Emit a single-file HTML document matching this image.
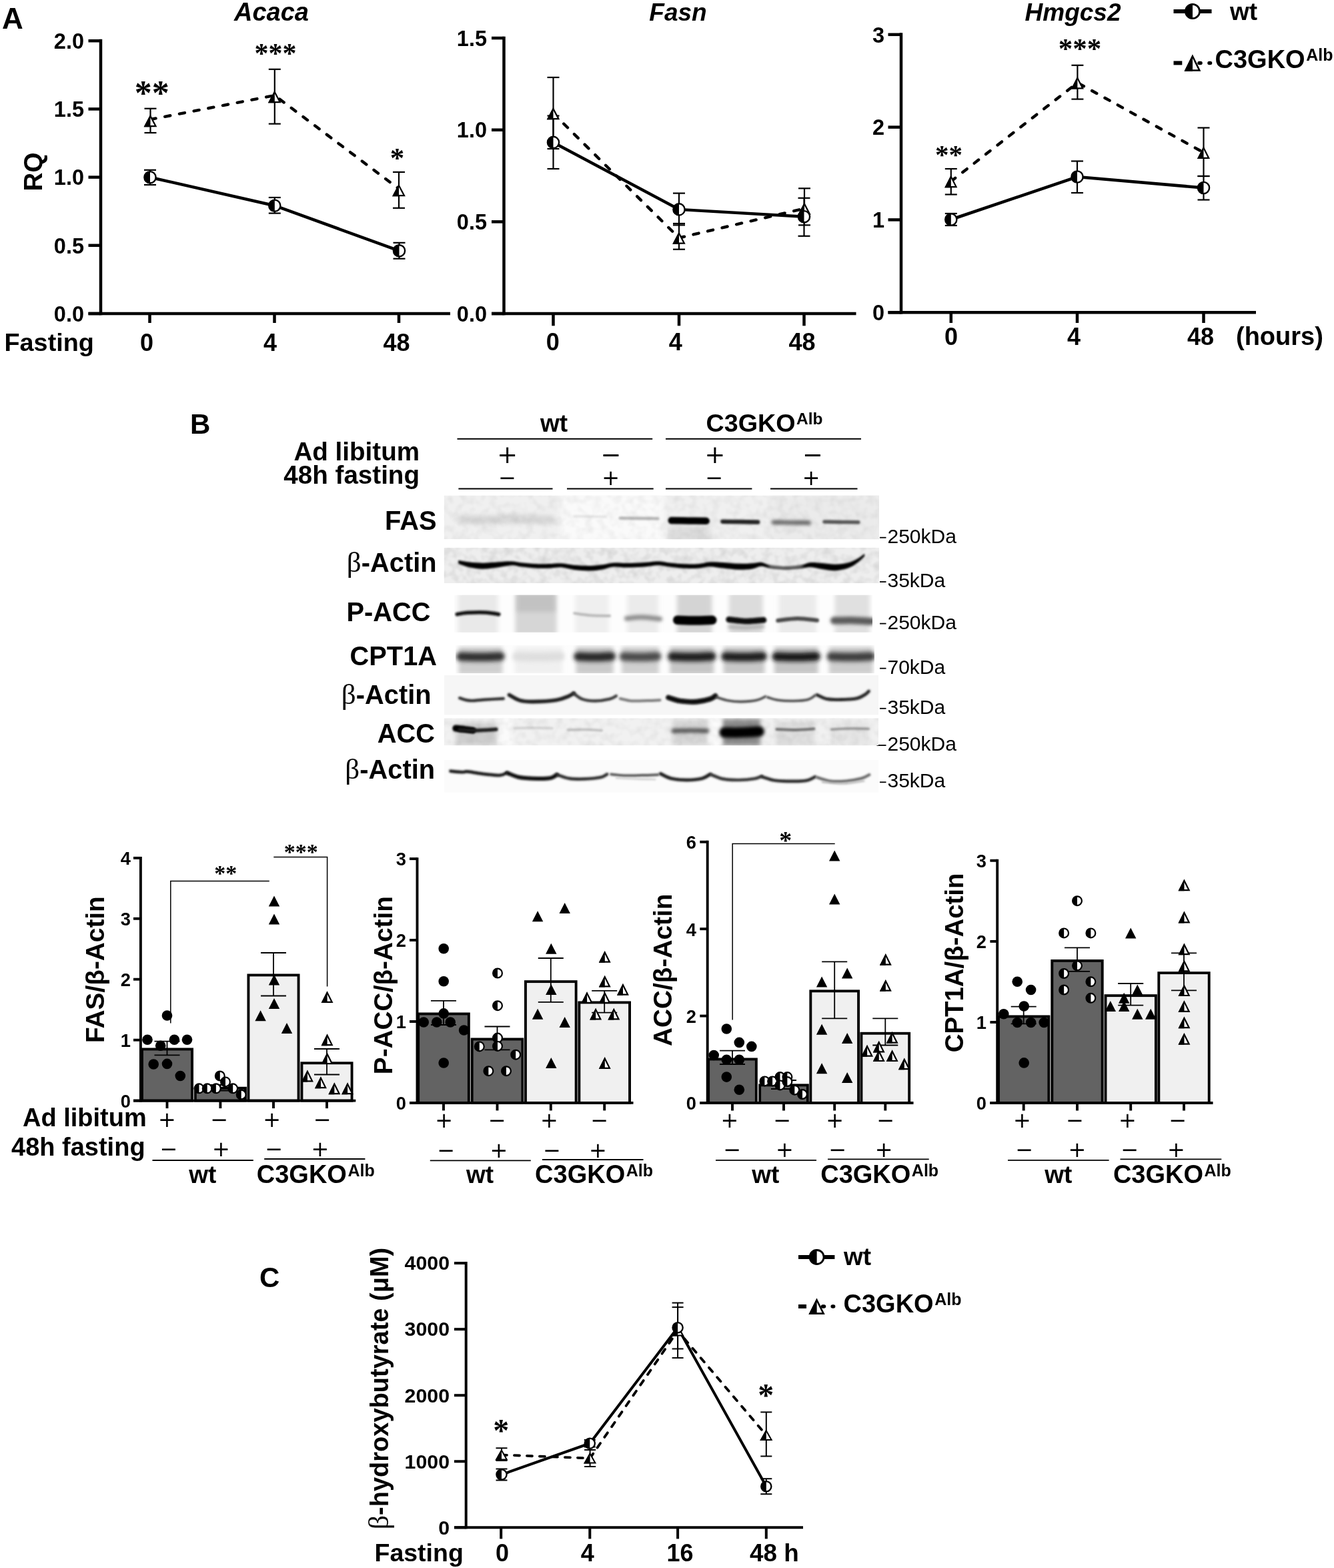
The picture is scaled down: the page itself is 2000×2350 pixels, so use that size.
<!DOCTYPE html>
<html lang="en"><head><meta charset="utf-8"><title>Figure</title>
<style>
html,body{margin:0;padding:0;background:#fff;}
body{width:2000px;height:2350px;overflow:hidden;}
svg{display:block;}
text{fill:#000;}
</style></head><body>
<svg width="2000" height="2350" viewBox="0 0 2000 2350">
<rect x="0" y="0" width="2000" height="2350" fill="#fff"/>
<text x="3" y="42.5" font-family='"Liberation Sans", Arial, sans-serif' font-size="44" font-weight="bold" font-style="normal" text-anchor="start">A</text>
<line x1="151" y1="58.75" x2="151" y2="472.25" stroke="#000" stroke-width="4.5" stroke-linecap="butt"/>
<line x1="132.5" y1="470" x2="675" y2="470" stroke="#000" stroke-width="4.5" stroke-linecap="butt"/>
<line x1="132.5" y1="61.2" x2="151" y2="61.2" stroke="#000" stroke-width="4.5" stroke-linecap="butt"/>
<text x="126" y="72.9" font-family='"Liberation Sans", Arial, sans-serif' font-size="32.5" font-weight="bold" font-style="normal" text-anchor="end">2.0</text>
<line x1="132.5" y1="163.4" x2="151" y2="163.4" stroke="#000" stroke-width="4.5" stroke-linecap="butt"/>
<text x="126" y="175.1" font-family='"Liberation Sans", Arial, sans-serif' font-size="32.5" font-weight="bold" font-style="normal" text-anchor="end">1.5</text>
<line x1="132.5" y1="265.6" x2="151" y2="265.6" stroke="#000" stroke-width="4.5" stroke-linecap="butt"/>
<text x="126" y="277.3" font-family='"Liberation Sans", Arial, sans-serif' font-size="32.5" font-weight="bold" font-style="normal" text-anchor="end">1.0</text>
<line x1="132.5" y1="367.8" x2="151" y2="367.8" stroke="#000" stroke-width="4.5" stroke-linecap="butt"/>
<text x="126" y="379.5" font-family='"Liberation Sans", Arial, sans-serif' font-size="32.5" font-weight="bold" font-style="normal" text-anchor="end">0.5</text>
<line x1="132.5" y1="470" x2="151" y2="470" stroke="#000" stroke-width="4.5" stroke-linecap="butt"/>
<text x="126" y="481.7" font-family='"Liberation Sans", Arial, sans-serif' font-size="32.5" font-weight="bold" font-style="normal" text-anchor="end">0.0</text>
<line x1="224.5" y1="470" x2="224.5" y2="484" stroke="#000" stroke-width="4.5" stroke-linecap="butt"/>
<line x1="411.5" y1="470" x2="411.5" y2="484" stroke="#000" stroke-width="4.5" stroke-linecap="butt"/>
<line x1="598" y1="470" x2="598" y2="484" stroke="#000" stroke-width="4.5" stroke-linecap="butt"/>
<text x="63" y="257.5" font-family='"Liberation Sans", Arial, sans-serif' font-size="38.7" font-weight="bold" font-style="normal" text-anchor="middle" transform="rotate(-90 63 257.5)">RQ</text>
<text x="407" y="31" font-family='"Liberation Sans", Arial, sans-serif' font-size="38" font-weight="bold" font-style="italic" text-anchor="middle">Acaca</text>
<text x="6.5" y="526" font-family='"Liberation Sans", Arial, sans-serif' font-size="37.8" font-weight="bold" font-style="normal" text-anchor="start">Fasting</text>
<text x="220" y="526" font-family='"Liberation Sans", Arial, sans-serif' font-size="36" font-weight="bold" font-style="normal" text-anchor="middle">0</text>
<text x="405" y="526" font-family='"Liberation Sans", Arial, sans-serif' font-size="36" font-weight="bold" font-style="normal" text-anchor="middle">4</text>
<text x="594.5" y="526" font-family='"Liberation Sans", Arial, sans-serif' font-size="36" font-weight="bold" font-style="normal" text-anchor="middle">48</text>
<polyline points="225,265.7 411.8,308.2 598.5,375.8" fill="none" stroke="#000" stroke-width="4.5" stroke-linecap="butt" stroke-linejoin="miter"/>
<polyline points="225.5,179 411.8,143 598,283" fill="none" stroke="#000" stroke-width="4.4" stroke-linecap="round" stroke-linejoin="miter" stroke-dasharray="8.2 13.9"/>
<line x1="225" y1="254.8" x2="225" y2="277" stroke="#000" stroke-width="2.2" stroke-linecap="butt"/>
<line x1="216" y1="254.8" x2="234" y2="254.8" stroke="#000" stroke-width="2.2" stroke-linecap="butt"/>
<line x1="216" y1="277" x2="234" y2="277" stroke="#000" stroke-width="2.2" stroke-linecap="butt"/>
<circle cx="225" cy="265.7" r="8.6" fill="#fff" stroke="#000" stroke-width="2.4"/>
<path d="M225,257.1 A8.6,8.6 0 0 0 225,274.3 Z" fill="#000"/>
<line x1="411.8" y1="296" x2="411.8" y2="319.6" stroke="#000" stroke-width="2.2" stroke-linecap="butt"/>
<line x1="402.8" y1="296" x2="420.8" y2="296" stroke="#000" stroke-width="2.2" stroke-linecap="butt"/>
<line x1="402.8" y1="319.6" x2="420.8" y2="319.6" stroke="#000" stroke-width="2.2" stroke-linecap="butt"/>
<circle cx="411.8" cy="308.2" r="8.6" fill="#fff" stroke="#000" stroke-width="2.4"/>
<path d="M411.8,299.6 A8.6,8.6 0 0 0 411.8,316.8 Z" fill="#000"/>
<line x1="598.5" y1="363.8" x2="598.5" y2="387.7" stroke="#000" stroke-width="2.2" stroke-linecap="butt"/>
<line x1="589.5" y1="363.8" x2="607.5" y2="363.8" stroke="#000" stroke-width="2.2" stroke-linecap="butt"/>
<line x1="589.5" y1="387.7" x2="607.5" y2="387.7" stroke="#000" stroke-width="2.2" stroke-linecap="butt"/>
<circle cx="598.5" cy="375.8" r="8.6" fill="#fff" stroke="#000" stroke-width="2.4"/>
<path d="M598.5,367.2 A8.6,8.6 0 0 0 598.5,384.4 Z" fill="#000"/>
<line x1="225.5" y1="162.7" x2="225.5" y2="199" stroke="#000" stroke-width="2.2" stroke-linecap="butt"/>
<line x1="216.5" y1="162.7" x2="234.5" y2="162.7" stroke="#000" stroke-width="2.2" stroke-linecap="butt"/>
<line x1="216.5" y1="199" x2="234.5" y2="199" stroke="#000" stroke-width="2.2" stroke-linecap="butt"/>
<polygon points="225.5,173.92 233.53,189.2 217.47,189.2" fill="#fff" stroke="#000" stroke-width="2.2" stroke-linejoin="miter"/>
<polygon points="225.5,171.5 225.5,190.3 215.6,190.3" fill="#000"/>
<line x1="411.8" y1="103.8" x2="411.8" y2="185.6" stroke="#000" stroke-width="2.2" stroke-linecap="butt"/>
<line x1="402.8" y1="103.8" x2="420.8" y2="103.8" stroke="#000" stroke-width="2.2" stroke-linecap="butt"/>
<line x1="402.8" y1="185.6" x2="420.8" y2="185.6" stroke="#000" stroke-width="2.2" stroke-linecap="butt"/>
<polygon points="411.8,137.92 419.83,153.2 403.77,153.2" fill="#fff" stroke="#000" stroke-width="2.2" stroke-linejoin="miter"/>
<polygon points="411.8,135.5 411.8,154.3 401.9,154.3" fill="#000"/>
<line x1="598" y1="257.9" x2="598" y2="311.8" stroke="#000" stroke-width="2.2" stroke-linecap="butt"/>
<line x1="589" y1="257.9" x2="607" y2="257.9" stroke="#000" stroke-width="2.2" stroke-linecap="butt"/>
<line x1="589" y1="311.8" x2="607" y2="311.8" stroke="#000" stroke-width="2.2" stroke-linecap="butt"/>
<polygon points="598,277.92 606.03,293.2 589.97,293.2" fill="#fff" stroke="#000" stroke-width="2.2" stroke-linejoin="miter"/>
<polygon points="598,275.5 598,294.3 588.1,294.3" fill="#000"/>
<text x="227.7" y="156.94" font-family='"Liberation Serif", "Times New Roman", serif' font-size="52" font-weight="bold" font-style="normal" text-anchor="middle">**</text>
<text x="413" y="94.24" font-family='"Liberation Serif", "Times New Roman", serif' font-size="42" font-weight="bold" font-style="normal" text-anchor="middle">***</text>
<text x="595.5" y="251.21" font-family='"Liberation Serif", "Times New Roman", serif' font-size="43" font-weight="bold" font-style="normal" text-anchor="middle">*</text>
<line x1="755.5" y1="54.75" x2="755.5" y2="472.25" stroke="#000" stroke-width="4.5" stroke-linecap="butt"/>
<line x1="737" y1="470" x2="1283.5" y2="470" stroke="#000" stroke-width="4.5" stroke-linecap="butt"/>
<line x1="737" y1="57.05" x2="755.5" y2="57.05" stroke="#000" stroke-width="4.5" stroke-linecap="butt"/>
<text x="730" y="68.75" font-family='"Liberation Sans", Arial, sans-serif' font-size="32.5" font-weight="bold" font-style="normal" text-anchor="end">1.5</text>
<line x1="737" y1="194.7" x2="755.5" y2="194.7" stroke="#000" stroke-width="4.5" stroke-linecap="butt"/>
<text x="730" y="206.4" font-family='"Liberation Sans", Arial, sans-serif' font-size="32.5" font-weight="bold" font-style="normal" text-anchor="end">1.0</text>
<line x1="737" y1="332.35" x2="755.5" y2="332.35" stroke="#000" stroke-width="4.5" stroke-linecap="butt"/>
<text x="730" y="344.05" font-family='"Liberation Sans", Arial, sans-serif' font-size="32.5" font-weight="bold" font-style="normal" text-anchor="end">0.5</text>
<line x1="737" y1="470" x2="755.5" y2="470" stroke="#000" stroke-width="4.5" stroke-linecap="butt"/>
<text x="730" y="481.7" font-family='"Liberation Sans", Arial, sans-serif' font-size="32.5" font-weight="bold" font-style="normal" text-anchor="end">0.0</text>
<line x1="829.5" y1="470" x2="829.5" y2="488.3" stroke="#000" stroke-width="4.5" stroke-linecap="butt"/>
<line x1="1018" y1="470" x2="1018" y2="488.3" stroke="#000" stroke-width="4.5" stroke-linecap="butt"/>
<line x1="1205.5" y1="470" x2="1205.5" y2="488.3" stroke="#000" stroke-width="4.5" stroke-linecap="butt"/>
<text x="1016.5" y="31" font-family='"Liberation Sans", Arial, sans-serif' font-size="37" font-weight="bold" font-style="italic" text-anchor="middle">Fasn</text>
<text x="828.7" y="525" font-family='"Liberation Sans", Arial, sans-serif' font-size="36" font-weight="bold" font-style="normal" text-anchor="middle">0</text>
<text x="1012.7" y="525" font-family='"Liberation Sans", Arial, sans-serif' font-size="36" font-weight="bold" font-style="normal" text-anchor="middle">4</text>
<text x="1202.5" y="525" font-family='"Liberation Sans", Arial, sans-serif' font-size="36" font-weight="bold" font-style="normal" text-anchor="middle">48</text>
<polyline points="829.5,213.4 1018,313.9 1205.5,324.7" fill="none" stroke="#000" stroke-width="4.5" stroke-linecap="butt" stroke-linejoin="miter"/>
<polyline points="829.5,170 1018,356.5 1206,312.5" fill="none" stroke="#000" stroke-width="4.4" stroke-linecap="round" stroke-linejoin="miter" stroke-dasharray="8.2 13.9"/>
<line x1="829.5" y1="116" x2="829.5" y2="223" stroke="#000" stroke-width="2.2" stroke-linecap="butt"/>
<line x1="820.5" y1="116" x2="838.5" y2="116" stroke="#000" stroke-width="2.2" stroke-linecap="butt"/>
<line x1="820.5" y1="223" x2="838.5" y2="223" stroke="#000" stroke-width="2.2" stroke-linecap="butt"/>
<line x1="829.5" y1="173.5" x2="829.5" y2="253" stroke="#000" stroke-width="2.2" stroke-linecap="butt"/>
<line x1="820.5" y1="173.5" x2="838.5" y2="173.5" stroke="#000" stroke-width="2.2" stroke-linecap="butt"/>
<line x1="820.5" y1="253" x2="838.5" y2="253" stroke="#000" stroke-width="2.2" stroke-linecap="butt"/>
<line x1="1018" y1="335" x2="1018" y2="373.7" stroke="#000" stroke-width="2.2" stroke-linecap="butt"/>
<line x1="1009" y1="335" x2="1027" y2="335" stroke="#000" stroke-width="2.2" stroke-linecap="butt"/>
<line x1="1009" y1="373.7" x2="1027" y2="373.7" stroke="#000" stroke-width="2.2" stroke-linecap="butt"/>
<line x1="1018" y1="289.6" x2="1018" y2="337.4" stroke="#000" stroke-width="2.2" stroke-linecap="butt"/>
<line x1="1009" y1="289.6" x2="1027" y2="289.6" stroke="#000" stroke-width="2.2" stroke-linecap="butt"/>
<line x1="1009" y1="337.4" x2="1027" y2="337.4" stroke="#000" stroke-width="2.2" stroke-linecap="butt"/>
<line x1="1206" y1="282.3" x2="1206" y2="337.4" stroke="#000" stroke-width="2.2" stroke-linecap="butt"/>
<line x1="1197" y1="282.3" x2="1215" y2="282.3" stroke="#000" stroke-width="2.2" stroke-linecap="butt"/>
<line x1="1197" y1="337.4" x2="1215" y2="337.4" stroke="#000" stroke-width="2.2" stroke-linecap="butt"/>
<line x1="1205.5" y1="296.8" x2="1205.5" y2="353.8" stroke="#000" stroke-width="2.2" stroke-linecap="butt"/>
<line x1="1196.5" y1="296.8" x2="1214.5" y2="296.8" stroke="#000" stroke-width="2.2" stroke-linecap="butt"/>
<line x1="1196.5" y1="353.8" x2="1214.5" y2="353.8" stroke="#000" stroke-width="2.2" stroke-linecap="butt"/>
<polygon points="829.5,163.12 837.38,178.2 821.62,178.2" fill="#fff" stroke="#000" stroke-width="2.2" stroke-linejoin="miter"/>
<polygon points="829.5,160.7 829.5,179.3 819.75,179.3" fill="#000"/>
<polygon points="1018,349.62 1025.88,364.7 1010.12,364.7" fill="#fff" stroke="#000" stroke-width="2.2" stroke-linejoin="miter"/>
<polygon points="1018,347.2 1018,365.8 1008.25,365.8" fill="#000"/>
<polygon points="1206,305.62 1213.88,320.7 1198.12,320.7" fill="#fff" stroke="#000" stroke-width="2.2" stroke-linejoin="miter"/>
<polygon points="1206,303.2 1206,321.8 1196.25,321.8" fill="#000"/>
<circle cx="829.5" cy="213.4" r="8.6" fill="#fff" stroke="#000" stroke-width="2.4"/>
<path d="M829.5,204.8 A8.6,8.6 0 0 0 829.5,222 Z" fill="#000"/>
<circle cx="1018" cy="313.9" r="8.6" fill="#fff" stroke="#000" stroke-width="2.4"/>
<path d="M1018,305.3 A8.6,8.6 0 0 0 1018,322.5 Z" fill="#000"/>
<circle cx="1205.5" cy="324.7" r="8.6" fill="#fff" stroke="#000" stroke-width="2.4"/>
<path d="M1205.5,316.1 A8.6,8.6 0 0 0 1205.5,333.3 Z" fill="#000"/>
<line x1="1351" y1="49.25" x2="1351" y2="470.45" stroke="#000" stroke-width="4.5" stroke-linecap="butt"/>
<line x1="1331.5" y1="468.2" x2="1883" y2="468.2" stroke="#000" stroke-width="4.5" stroke-linecap="butt"/>
<line x1="1331.5" y1="51.8" x2="1351" y2="51.8" stroke="#000" stroke-width="4.5" stroke-linecap="butt"/>
<text x="1326" y="63.5" font-family='"Liberation Sans", Arial, sans-serif' font-size="32.5" font-weight="bold" font-style="normal" text-anchor="end">3</text>
<line x1="1331.5" y1="190.6" x2="1351" y2="190.6" stroke="#000" stroke-width="4.5" stroke-linecap="butt"/>
<text x="1326" y="202.3" font-family='"Liberation Sans", Arial, sans-serif' font-size="32.5" font-weight="bold" font-style="normal" text-anchor="end">2</text>
<line x1="1331.5" y1="329.4" x2="1351" y2="329.4" stroke="#000" stroke-width="4.5" stroke-linecap="butt"/>
<text x="1326" y="341.1" font-family='"Liberation Sans", Arial, sans-serif' font-size="32.5" font-weight="bold" font-style="normal" text-anchor="end">1</text>
<line x1="1331.5" y1="468.2" x2="1351" y2="468.2" stroke="#000" stroke-width="4.5" stroke-linecap="butt"/>
<text x="1326" y="479.9" font-family='"Liberation Sans", Arial, sans-serif' font-size="32.5" font-weight="bold" font-style="normal" text-anchor="end">0</text>
<line x1="1425.8" y1="468.2" x2="1425.8" y2="484" stroke="#000" stroke-width="4.5" stroke-linecap="butt"/>
<line x1="1615" y1="468.2" x2="1615" y2="484" stroke="#000" stroke-width="4.5" stroke-linecap="butt"/>
<line x1="1804.5" y1="468.2" x2="1804.5" y2="484" stroke="#000" stroke-width="4.5" stroke-linecap="butt"/>
<text x="1608.5" y="30.5" font-family='"Liberation Sans", Arial, sans-serif' font-size="37" font-weight="bold" font-style="italic" text-anchor="middle">Hmgcs2</text>
<text x="1426" y="516.5" font-family='"Liberation Sans", Arial, sans-serif' font-size="36" font-weight="bold" font-style="normal" text-anchor="middle">0</text>
<text x="1610" y="516.5" font-family='"Liberation Sans", Arial, sans-serif' font-size="36" font-weight="bold" font-style="normal" text-anchor="middle">4</text>
<text x="1800" y="516.5" font-family='"Liberation Sans", Arial, sans-serif' font-size="36" font-weight="bold" font-style="normal" text-anchor="middle">48</text>
<text x="1853" y="516.5" font-family='"Liberation Sans", Arial, sans-serif' font-size="38" font-weight="bold" font-style="normal" text-anchor="start">(hours)</text>
<polyline points="1425.8,329 1615,265 1804.5,281.5" fill="none" stroke="#000" stroke-width="4.5" stroke-linecap="butt" stroke-linejoin="miter"/>
<polyline points="1425.8,271.8 1615.4,124 1804.5,228.6" fill="none" stroke="#000" stroke-width="4.4" stroke-linecap="round" stroke-linejoin="miter" stroke-dasharray="8.2 13.9"/>
<line x1="1425.8" y1="320" x2="1425.8" y2="338" stroke="#000" stroke-width="2.2" stroke-linecap="butt"/>
<line x1="1416.8" y1="320" x2="1434.8" y2="320" stroke="#000" stroke-width="2.2" stroke-linecap="butt"/>
<line x1="1416.8" y1="338" x2="1434.8" y2="338" stroke="#000" stroke-width="2.2" stroke-linecap="butt"/>
<line x1="1615" y1="241.5" x2="1615" y2="289" stroke="#000" stroke-width="2.2" stroke-linecap="butt"/>
<line x1="1606" y1="241.5" x2="1624" y2="241.5" stroke="#000" stroke-width="2.2" stroke-linecap="butt"/>
<line x1="1606" y1="289" x2="1624" y2="289" stroke="#000" stroke-width="2.2" stroke-linecap="butt"/>
<line x1="1804.5" y1="264" x2="1804.5" y2="299.5" stroke="#000" stroke-width="2.2" stroke-linecap="butt"/>
<line x1="1795.5" y1="264" x2="1813.5" y2="264" stroke="#000" stroke-width="2.2" stroke-linecap="butt"/>
<line x1="1795.5" y1="299.5" x2="1813.5" y2="299.5" stroke="#000" stroke-width="2.2" stroke-linecap="butt"/>
<line x1="1425.8" y1="253" x2="1425.8" y2="291.5" stroke="#000" stroke-width="2.2" stroke-linecap="butt"/>
<line x1="1416.8" y1="253" x2="1434.8" y2="253" stroke="#000" stroke-width="2.2" stroke-linecap="butt"/>
<line x1="1416.8" y1="291.5" x2="1434.8" y2="291.5" stroke="#000" stroke-width="2.2" stroke-linecap="butt"/>
<line x1="1615.4" y1="97.8" x2="1615.4" y2="148.6" stroke="#000" stroke-width="2.2" stroke-linecap="butt"/>
<line x1="1606.4" y1="97.8" x2="1624.4" y2="97.8" stroke="#000" stroke-width="2.2" stroke-linecap="butt"/>
<line x1="1606.4" y1="148.6" x2="1624.4" y2="148.6" stroke="#000" stroke-width="2.2" stroke-linecap="butt"/>
<line x1="1804.5" y1="191.5" x2="1804.5" y2="264" stroke="#000" stroke-width="2.2" stroke-linecap="butt"/>
<line x1="1795.5" y1="191.5" x2="1813.5" y2="191.5" stroke="#000" stroke-width="2.2" stroke-linecap="butt"/>
<line x1="1795.5" y1="264" x2="1813.5" y2="264" stroke="#000" stroke-width="2.2" stroke-linecap="butt"/>
<polygon points="1425.8,264.82 1433.53,280.1 1418.07,280.1" fill="#fff" stroke="#000" stroke-width="2.2" stroke-linejoin="miter"/>
<polygon points="1425.8,262.4 1425.8,281.2 1416.2,281.2" fill="#000"/>
<polygon points="1615.4,117.02 1623.13,132.3 1607.67,132.3" fill="#fff" stroke="#000" stroke-width="2.2" stroke-linejoin="miter"/>
<polygon points="1615.4,114.6 1615.4,133.4 1605.8,133.4" fill="#000"/>
<polygon points="1804.5,221.62 1812.23,236.9 1796.77,236.9" fill="#fff" stroke="#000" stroke-width="2.2" stroke-linejoin="miter"/>
<polygon points="1804.5,219.2 1804.5,238 1794.9,238" fill="#000"/>
<circle cx="1425.8" cy="329" r="8.6" fill="#fff" stroke="#000" stroke-width="2.4"/>
<path d="M1425.8,320.4 A8.6,8.6 0 0 0 1425.8,337.6 Z" fill="#000"/>
<circle cx="1615" cy="265" r="8.6" fill="#fff" stroke="#000" stroke-width="2.4"/>
<path d="M1615,256.4 A8.6,8.6 0 0 0 1615,273.6 Z" fill="#000"/>
<circle cx="1804.5" cy="281.5" r="8.6" fill="#fff" stroke="#000" stroke-width="2.4"/>
<path d="M1804.5,272.9 A8.6,8.6 0 0 0 1804.5,290.1 Z" fill="#000"/>
<text x="1422.5" y="245.27" font-family='"Liberation Serif", "Times New Roman", serif' font-size="41" font-weight="bold" font-style="normal" text-anchor="middle">**</text>
<text x="1619" y="87.21" font-family='"Liberation Serif", "Times New Roman", serif' font-size="43" font-weight="bold" font-style="normal" text-anchor="middle">***</text>
<line x1="1759.5" y1="17" x2="1816.5" y2="17" stroke="#000" stroke-width="6" stroke-linecap="butt"/>
<circle cx="1788" cy="17" r="10.6" fill="#fff" stroke="#000" stroke-width="2.8"/>
<path d="M1788,6.4 A10.6,10.6 0 0 0 1788,27.6 Z" fill="#000"/>
<text x="1844" y="29.8" font-family='"Liberation Sans", Arial, sans-serif' font-size="37" font-weight="bold" font-style="normal" text-anchor="start">wt</text>
<line x1="1759.5" y1="94.4" x2="1772.3" y2="94.4" stroke="#000" stroke-width="6" stroke-linecap="butt"/>
<line x1="1798" y1="94.4" x2="1800" y2="94.4" stroke="#000" stroke-width="5.5" stroke-linecap="round"/>
<line x1="1813" y1="94.4" x2="1814.5" y2="94.4" stroke="#000" stroke-width="5.5" stroke-linecap="round"/>
<polygon points="1788,84.46 1798.29,105.5 1777.71,105.5" fill="#fff" stroke="#000" stroke-width="2.6" stroke-linejoin="miter"/>
<polygon points="1788,81.6 1788,106.8 1775.5,106.8" fill="#000"/>
<text x="1821.5" y="101.5" font-family='"Liberation Sans", Arial, sans-serif' font-size="38" font-weight="bold" text-anchor="start">C3GKO<tspan font-size="25" dy="-11" dx="1.5">Alb</tspan></text>
<text x="285" y="650" font-family='"Liberation Sans", Arial, sans-serif' font-size="42" font-weight="bold" font-style="normal" text-anchor="start">B</text>
<text x="830.5" y="647" font-family='"Liberation Sans", Arial, sans-serif' font-size="37" font-weight="bold" font-style="normal" text-anchor="middle">wt</text>
<text x="1058.5" y="647.2" font-family='"Liberation Sans", Arial, sans-serif' font-size="37.7" font-weight="bold" text-anchor="start">C3GKO<tspan font-size="24.5" dy="-11.5" dx="1.5">Alb</tspan></text>
<line x1="685.5" y1="657.7" x2="978.2" y2="657.7" stroke="#000" stroke-width="2" stroke-linecap="butt"/>
<line x1="998" y1="657.7" x2="1291" y2="657.7" stroke="#000" stroke-width="2" stroke-linecap="butt"/>
<text x="629" y="689.5" font-family='"Liberation Sans", Arial, sans-serif' font-size="38.6" font-weight="bold" font-style="normal" text-anchor="end">Ad libitum</text>
<text x="629" y="725.3" font-family='"Liberation Sans", Arial, sans-serif' font-size="38.6" font-weight="bold" font-style="normal" text-anchor="end">48h fasting</text>
<text x="760.7" y="693.9" font-family='"DejaVu Sans", "Liberation Sans", sans-serif' font-size="36.74" font-weight="normal" font-style="normal" text-anchor="middle">+</text>
<text x="916" y="693.9" font-family='"DejaVu Sans", "Liberation Sans", sans-serif' font-size="36.74" font-weight="normal" font-style="normal" text-anchor="middle">−</text>
<text x="1072" y="693.9" font-family='"DejaVu Sans", "Liberation Sans", sans-serif' font-size="36.74" font-weight="normal" font-style="normal" text-anchor="middle">+</text>
<text x="1218.5" y="693.9" font-family='"DejaVu Sans", "Liberation Sans", sans-serif' font-size="36.74" font-weight="normal" font-style="normal" text-anchor="middle">−</text>
<text x="760.7" y="726.98" font-family='"DejaVu Sans", "Liberation Sans", sans-serif' font-size="31.95" font-weight="normal" font-style="normal" text-anchor="middle">−</text>
<text x="915.6" y="726.98" font-family='"DejaVu Sans", "Liberation Sans", sans-serif' font-size="31.95" font-weight="normal" font-style="normal" text-anchor="middle">+</text>
<text x="1071" y="726.98" font-family='"DejaVu Sans", "Liberation Sans", sans-serif' font-size="31.95" font-weight="normal" font-style="normal" text-anchor="middle">−</text>
<text x="1216.2" y="726.98" font-family='"DejaVu Sans", "Liberation Sans", sans-serif' font-size="31.95" font-weight="normal" font-style="normal" text-anchor="middle">+</text>
<line x1="687.4" y1="732.4" x2="828.5" y2="732.4" stroke="#000" stroke-width="2" stroke-linecap="butt"/>
<line x1="850" y1="732.4" x2="979.7" y2="732.4" stroke="#000" stroke-width="2" stroke-linecap="butt"/>
<line x1="998" y1="732.4" x2="1127.4" y2="732.4" stroke="#000" stroke-width="2" stroke-linecap="butt"/>
<line x1="1155" y1="732.4" x2="1285.5" y2="732.4" stroke="#000" stroke-width="2" stroke-linecap="butt"/>
<text x="654.5" y="794.2" font-family='"Liberation Sans", Arial, sans-serif' font-size="39.8" font-weight="bold" font-style="normal" text-anchor="end">FAS</text>
<text x="654.5" y="856.8" font-family='"Liberation Sans", Arial, sans-serif' font-size="39.8" font-weight="bold" font-style="normal" text-anchor="end"><tspan font-family='"Liberation Serif", "Times New Roman", serif' font-weight="normal" font-size="43">β</tspan>-Actin</text>
<text x="645.5" y="930.8" font-family='"Liberation Sans", Arial, sans-serif' font-size="39.8" font-weight="bold" font-style="normal" text-anchor="end">P-ACC</text>
<text x="655" y="997.2" font-family='"Liberation Sans", Arial, sans-serif' font-size="39.8" font-weight="bold" font-style="normal" text-anchor="end">CPT1A</text>
<text x="646.5" y="1055" font-family='"Liberation Sans", Arial, sans-serif' font-size="39.8" font-weight="bold" font-style="normal" text-anchor="end"><tspan font-family='"Liberation Serif", "Times New Roman", serif' font-weight="normal" font-size="43">β</tspan>-Actin</text>
<text x="652" y="1112.9" font-family='"Liberation Sans", Arial, sans-serif' font-size="39.8" font-weight="bold" font-style="normal" text-anchor="end">ACC</text>
<text x="652" y="1166.7" font-family='"Liberation Sans", Arial, sans-serif' font-size="39.8" font-weight="bold" font-style="normal" text-anchor="end"><tspan font-family='"Liberation Serif", "Times New Roman", serif' font-weight="normal" font-size="43">β</tspan>-Actin</text>
<line x1="1319" y1="805.7" x2="1328.5" y2="805.7" stroke="#000" stroke-width="1.8" stroke-linecap="butt"/>
<text x="1330.5" y="813.7" font-family='"Liberation Sans", Arial, sans-serif' font-size="30" font-weight="normal" font-style="normal" text-anchor="start">250kDa</text>
<line x1="1319" y1="872" x2="1328.5" y2="872" stroke="#000" stroke-width="1.8" stroke-linecap="butt"/>
<text x="1330.5" y="880" font-family='"Liberation Sans", Arial, sans-serif' font-size="30" font-weight="normal" font-style="normal" text-anchor="start">35kDa</text>
<line x1="1319" y1="934.6" x2="1328.5" y2="934.6" stroke="#000" stroke-width="1.8" stroke-linecap="butt"/>
<text x="1330.5" y="942.6" font-family='"Liberation Sans", Arial, sans-serif' font-size="30" font-weight="normal" font-style="normal" text-anchor="start">250kDa</text>
<line x1="1319" y1="1001.7" x2="1328.5" y2="1001.7" stroke="#000" stroke-width="1.8" stroke-linecap="butt"/>
<text x="1330.5" y="1009.7" font-family='"Liberation Sans", Arial, sans-serif' font-size="30" font-weight="normal" font-style="normal" text-anchor="start">70kDa</text>
<line x1="1319" y1="1061.8" x2="1328.5" y2="1061.8" stroke="#000" stroke-width="1.8" stroke-linecap="butt"/>
<text x="1330.5" y="1069.8" font-family='"Liberation Sans", Arial, sans-serif' font-size="30" font-weight="normal" font-style="normal" text-anchor="start">35kDa</text>
<line x1="1314.5" y1="1117" x2="1328.5" y2="1117" stroke="#000" stroke-width="1.8" stroke-linecap="butt"/>
<text x="1330.5" y="1125" font-family='"Liberation Sans", Arial, sans-serif' font-size="30" font-weight="normal" font-style="normal" text-anchor="start">250kDa</text>
<line x1="1319" y1="1172.3" x2="1328.5" y2="1172.3" stroke="#000" stroke-width="1.8" stroke-linecap="butt"/>
<text x="1330.5" y="1180.3" font-family='"Liberation Sans", Arial, sans-serif' font-size="30" font-weight="normal" font-style="normal" text-anchor="start">35kDa</text>
<defs><filter id="b1" filterUnits="userSpaceOnUse" x="640" y="720" width="700" height="490"><feGaussianBlur stdDeviation="1.7"/></filter><filter id="b2" filterUnits="userSpaceOnUse" x="640" y="720" width="700" height="490"><feGaussianBlur stdDeviation="2.6"/></filter><filter id="b3" filterUnits="userSpaceOnUse" x="640" y="720" width="700" height="490"><feGaussianBlur stdDeviation="3.2"/></filter><filter id="b4" filterUnits="userSpaceOnUse" x="640" y="720" width="700" height="490"><feGaussianBlur stdDeviation="5"/></filter><filter id="nz" filterUnits="userSpaceOnUse" x="640" y="720" width="700" height="490"><feTurbulence type="fractalNoise" baseFrequency="0.09" numOctaves="2" seed="7" result="t"/><feColorMatrix in="t" type="matrix" values="0 0 0 0 0  0 0 0 0 0  0 0 0 0 0  1.6 0 0 0 -0.62"/><feGaussianBlur stdDeviation="1.2"/></filter></defs>
<clipPath id="cb1"><rect x="665.6" y="742.5" width="652.4" height="65.7"/></clipPath>
<g clip-path="url(#cb1)">
<rect x="665.6" y="742.5" width="652.4" height="65.7" fill="#f0f0f0"/>
<rect x="841.67" y="737.82" width="152.55" height="76.28" fill="#fafafa" opacity="1.0" filter="url(#b4)"/>
<rect x="1004" y="788.67" width="60.63" height="25.43" fill="#dcdcdc" opacity="1.0" filter="url(#b4)"/>
<rect x="1154.6" y="741.73" width="168.2" height="72.36" fill="#ebebeb" opacity="1.0" filter="url(#b4)"/>
<path d="M693.03,778.5 C697.59,778.57 711.28,778.76 720.41,778.89 C729.54,779.03 743.23,779.22 747.79,779.29" fill="none" stroke="#d6d6d6" stroke-width="13" stroke-linecap="round" stroke-linejoin="round" opacity="1.0" filter="url(#b3)"/>
<path d="M755.61,777.72 C761.48,777.79 779.08,777.98 790.82,778.11 C802.55,778.24 820.15,778.44 826.02,778.5" fill="none" stroke="#d8d8d8" stroke-width="13" stroke-linecap="round" stroke-linejoin="round" opacity="1.0" filter="url(#b3)"/>
<path d="M861.23,773.81 C865.14,773.88 876.87,774.07 884.7,774.2 C892.52,774.33 904.25,774.53 908.17,774.59" fill="none" stroke="#e2e2e2" stroke-width="3.5" stroke-linecap="round" stroke-linejoin="round" opacity="1.0" filter="url(#b1)"/>
<path d="M929.68,776.55 C934.41,776.61 948.59,776.81 958.04,776.94 C967.49,777.07 981.67,777.27 986.4,777.33" fill="none" stroke="#b4b4b4" stroke-width="4.5" stroke-linecap="round" stroke-linejoin="round" opacity="1.0" filter="url(#b1)"/>
<path d="M1006.74,780.07 C1011.07,780.13 1024.08,780.33 1032.75,780.46 C1041.42,780.59 1054.43,780.79 1058.76,780.85" fill="none" stroke="#000" stroke-width="10.5" stroke-linecap="round" stroke-linejoin="round" opacity="1.0" filter="url(#b1)"/>
<path d="M1083.41,781.63 C1087.81,781.7 1101.01,781.89 1109.81,782.02 C1118.61,782.15 1131.81,782.35 1136.21,782.42" fill="none" stroke="#222" stroke-width="6.5" stroke-linecap="round" stroke-linejoin="round" opacity="1.0" filter="url(#b1)"/>
<path d="M1159.68,782.81 C1164.08,782.87 1177.28,783.07 1186.08,783.2 C1194.89,783.33 1208.09,783.52 1212.49,783.59" fill="none" stroke="#666" stroke-width="6.5" stroke-linecap="round" stroke-linejoin="round" opacity="1.0" filter="url(#b2)"/>
<path d="M1235.96,782.02 C1240.19,782.09 1252.91,782.29 1261.38,782.42 C1269.86,782.55 1282.57,782.74 1286.81,782.81" fill="none" stroke="#555" stroke-width="5.5" stroke-linecap="round" stroke-linejoin="round" opacity="1.0" filter="url(#b1)"/>
<rect x="665.6" y="742.5" width="652.4" height="65.7" fill="#000" opacity="0.07" filter="url(#nz)"/>
</g>
<clipPath id="cb2"><rect x="665.6" y="820.7" width="652.4" height="53.3"/></clipPath>
<g clip-path="url(#cb2)">
<rect x="665.6" y="820.7" width="652.4" height="53.3" fill="#eeeeee"/>
<path d="M687.16,839.76 C690.09,840.23 698.57,841.92 704.76,842.57 C710.96,843.21 717.15,843.7 724.32,843.63 C731.49,843.57 740.62,842.58 747.79,842.17 C754.96,841.77 761.48,840.99 767.35,841.22 C773.22,841.45 776.47,842.89 782.99,843.57 C789.51,844.24 799.29,845.05 806.46,845.27 C813.64,845.49 820.15,845.03 826.02,844.88 C831.89,844.73 835.8,844 841.67,844.35 C847.54,844.7 854.06,846.39 861.23,846.98 C868.4,847.57 877.52,848.03 884.7,847.9 C891.87,847.77 898.39,846.92 904.25,846.19 C910.12,845.47 914.03,843.92 919.9,843.57 C925.77,843.22 932.29,844.14 939.46,844.1 C946.63,844.06 955.1,843.8 962.93,843.32 C970.75,842.84 979.88,841.24 986.4,841.22 C992.92,841.2 995.52,842.5 1002.04,843.17 C1008.56,843.85 1017.69,844.99 1025.51,845.27 C1033.34,845.56 1042.46,845.38 1048.98,844.88 C1055.5,844.38 1058.76,842.58 1064.63,842.28 C1070.5,841.99 1077.02,842.68 1084.19,843.1 C1091.36,843.52 1100.49,844.61 1107.66,844.8 C1114.83,845 1121.67,844.61 1127.21,844.27 C1132.76,843.93 1136.34,842.32 1140.91,842.78 C1145.47,843.25 1148.4,846.02 1154.6,847.05 C1160.79,848.09 1170.24,849.05 1178.07,849.01 C1185.89,848.97 1195.34,847.79 1201.54,846.8 C1207.73,845.81 1210.01,843.53 1215.23,843.07 C1220.44,842.6 1226.63,843.58 1232.83,844.02 C1239.02,844.47 1245.87,845.84 1252.39,845.73 C1258.91,845.61 1266.4,844.75 1271.94,843.35 C1277.49,841.94 1281.59,839.58 1285.63,837.31 C1289.68,835.03 1294.44,830.97 1296.2,829.7 L1296.2,833.7 C1294.44,835.3 1289.68,840.37 1285.63,843.31 C1281.59,846.25 1277.49,849.36 1271.94,851.35 C1266.4,853.33 1258.91,854.95 1252.39,855.23 C1245.87,855.51 1239.02,853.88 1232.83,853.02 C1226.63,852.16 1220.44,850.27 1215.23,850.07 C1210.01,849.86 1207.73,851.23 1201.54,851.8 C1195.34,852.38 1185.89,853.55 1178.07,853.51 C1170.24,853.47 1160.79,852.34 1154.6,851.55 C1148.4,850.77 1145.47,848.58 1140.91,848.78 C1136.34,848.99 1132.76,851.93 1127.21,852.77 C1121.67,853.61 1114.83,854 1107.66,853.8 C1100.49,853.61 1091.36,852.35 1084.19,851.6 C1077.02,850.84 1070.5,849.32 1064.63,849.28 C1058.76,849.25 1055.5,850.97 1048.98,851.38 C1042.46,851.79 1033.34,852.14 1025.51,851.77 C1017.69,851.4 1008.56,849.93 1002.04,849.17 C995.52,848.42 992.92,847.11 986.4,847.22 C979.88,847.33 970.75,849.25 962.93,849.82 C955.1,850.38 946.63,850.64 939.46,850.6 C932.29,850.56 925.77,849.13 919.9,849.57 C914.03,850 910.12,852.22 904.25,853.19 C898.39,854.17 891.87,855.27 884.7,855.4 C877.52,855.53 868.4,854.82 861.23,853.98 C854.06,853.14 847.54,850.78 841.67,850.35 C835.8,849.92 831.89,851.14 826.02,851.38 C820.15,851.62 813.64,852.07 806.46,851.77 C799.29,851.47 789.51,850.32 782.99,849.57 C776.47,848.81 773.22,847.12 767.35,847.22 C761.48,847.32 754.96,849.27 747.79,850.17 C740.62,851.08 731.49,852.57 724.32,852.63 C717.15,852.7 710.96,851.88 704.76,850.57 C698.57,849.25 690.09,845.73 687.16,844.76 Z" fill="#050505" opacity="1.0" filter="url(#b1)"/>
<path d="M1154.6,848.52 C1158.51,848.85 1170.24,850.48 1178.07,850.48 C1185.89,850.48 1197.62,848.85 1201.54,848.52" fill="none" stroke="#ececec" stroke-width="5" stroke-linecap="round" stroke-linejoin="round" opacity="0.55" filter="url(#b2)"/>
<rect x="665.6" y="820.7" width="652.4" height="53.3" fill="#000" opacity="0.13" filter="url(#nz)"/>
</g>
<clipPath id="cb3"><rect x="680.5" y="891.7" width="627.5" height="56"/></clipPath>
<g clip-path="url(#cb3)">
<rect x="680.5" y="891.7" width="627.5" height="56" fill="#fdfdfd"/>
<rect x="686.38" y="887.82" width="60.24" height="64.54" fill="#e9e9e9" opacity="1.0" filter="url(#b3)"/>
<rect x="772.43" y="887.82" width="62.19" height="64.54" fill="#d6d6d6" opacity="1.0" filter="url(#b3)"/>
<rect x="862.4" y="887.82" width="50.46" height="64.54" fill="#efefef" opacity="1.0" filter="url(#b3)"/>
<rect x="940.63" y="887.82" width="46.55" height="64.54" fill="#ebebeb" opacity="1.0" filter="url(#b3)"/>
<rect x="1014.95" y="887.82" width="52.42" height="64.54" fill="#d4d4d4" opacity="1.0" filter="url(#b3)"/>
<rect x="1093.18" y="887.82" width="50.46" height="64.54" fill="#dcdcdc" opacity="1.0" filter="url(#b3)"/>
<rect x="1167.5" y="887.82" width="56.33" height="64.54" fill="#ebebeb" opacity="1.0" filter="url(#b3)"/>
<rect x="1251.6" y="887.82" width="52.42" height="64.54" fill="#e0e0e0" opacity="1.0" filter="url(#b3)"/>
<rect x="775.17" y="889.78" width="56.72" height="27.38" fill="#c2c2c2" opacity="1.0" filter="url(#b3)"/>
<path d="M685.2,920.68 C687.81,920.29 693.68,918.79 700.85,918.33 C708.02,917.88 720.41,917.55 728.23,917.94 C736.06,918.33 744.53,920.22 747.79,920.68" fill="none" stroke="#111" stroke-width="5.5" stroke-linecap="round" stroke-linejoin="round" opacity="1.0" filter="url(#b1)"/>
<path d="M861.23,919.12 C865.14,919.64 875.89,921.59 884.7,922.25 C893.5,922.9 909.14,922.9 914.03,923.03" fill="none" stroke="#b8b8b8" stroke-width="4" stroke-linecap="round" stroke-linejoin="round" opacity="1.0" filter="url(#b1)"/>
<path d="M939.46,926.94 C943.37,926.61 954.58,924.85 962.93,924.98 C971.27,925.11 985.09,927.27 989.53,927.72" fill="none" stroke="#8a8a8a" stroke-width="7" stroke-linecap="round" stroke-linejoin="round" opacity="1.0" filter="url(#b2)"/>
<path d="M1015.73,929.29 C1019.97,929.42 1032.49,930.07 1041.16,930.07 C1049.83,930.07 1063.33,929.42 1067.76,929.29" fill="none" stroke="#000" stroke-width="13.5" stroke-linecap="round" stroke-linejoin="round" opacity="1.0" filter="url(#b1)"/>
<path d="M1092.79,928.5 C1097.23,928.96 1110.72,931.11 1119.39,931.24 C1128.06,931.37 1140.58,929.61 1144.82,929.29" fill="none" stroke="#0a0a0a" stroke-width="9" stroke-linecap="round" stroke-linejoin="round" opacity="1.0" filter="url(#b1)"/>
<path d="M1093.97,939.46 C1098.2,939.65 1111.11,940.76 1119.39,940.63 C1127.67,940.5 1139.6,939 1143.64,938.67" fill="none" stroke="#aaa" stroke-width="5" stroke-linecap="round" stroke-linejoin="round" opacity="1.0" filter="url(#b2)"/>
<path d="M1166.33,930.07 C1171.22,929.55 1185.89,927 1195.67,926.94 C1205.45,926.87 1220.12,929.22 1225,929.68" fill="none" stroke="#484848" stroke-width="6" stroke-linecap="round" stroke-linejoin="round" opacity="1.0" filter="url(#b1)"/>
<path d="M1250.43,930.07 C1254.99,930 1268.49,929.48 1277.81,929.68 C1287.13,929.87 1301.61,930.98 1306.37,931.24" fill="none" stroke="#5c5c5c" stroke-width="11" stroke-linecap="round" stroke-linejoin="round" opacity="1.0" filter="url(#b2)"/>
</g>
<clipPath id="cb4"><rect x="683" y="966.8" width="628" height="42.2"/></clipPath>
<g clip-path="url(#cb4)">
<rect x="683" y="966.8" width="628" height="42.2" fill="#fdfdfd"/>
<rect x="687.55" y="969.18" width="65.71" height="41.85" fill="#cfcfcf" opacity="1.0" filter="url(#b3)"/>
<rect x="771.65" y="969.18" width="71.58" height="41.85" fill="#f0f0f0" opacity="1.0" filter="url(#b3)"/>
<rect x="863.57" y="969.18" width="55.94" height="41.85" fill="#cacaca" opacity="1.0" filter="url(#b3)"/>
<rect x="932.03" y="969.18" width="55.94" height="41.85" fill="#d0d0d0" opacity="1.0" filter="url(#b3)"/>
<rect x="1004.39" y="969.18" width="65.71" height="41.85" fill="#c6c6c6" opacity="1.0" filter="url(#b3)"/>
<rect x="1084.58" y="969.18" width="61.8" height="41.85" fill="#c8c8c8" opacity="1.0" filter="url(#b3)"/>
<rect x="1160.85" y="969.18" width="65.71" height="41.85" fill="#c6c6c6" opacity="1.0" filter="url(#b3)"/>
<rect x="1243" y="969.18" width="65.71" height="41.85" fill="#cecece" opacity="1.0" filter="url(#b3)"/>
<path d="M690.68,984.05 C695.64,984.18 710.5,984.9 720.41,984.83 C730.32,984.77 745.18,983.85 750.14,983.66" fill="none" stroke="#2e2e2e" stroke-width="13" stroke-linecap="round" stroke-linejoin="round" opacity="1.0" filter="url(#b3)"/>
<path d="M774.78,984.05 C780.22,984.18 796.55,984.9 807.44,984.83 C818.33,984.77 834.66,983.85 840.1,983.66" fill="none" stroke="#dedede" stroke-width="13" stroke-linecap="round" stroke-linejoin="round" opacity="1.0" filter="url(#b3)"/>
<path d="M866.7,984.05 C870.84,984.18 883.26,984.9 891.54,984.83 C899.82,984.77 912.24,983.85 916.38,983.66" fill="none" stroke="#262626" stroke-width="13" stroke-linecap="round" stroke-linejoin="round" opacity="1.0" filter="url(#b3)"/>
<path d="M935.16,984.05 C939.3,984.18 951.71,984.9 959.99,984.83 C968.27,984.77 980.69,983.85 984.83,983.66" fill="none" stroke="#4c4c4c" stroke-width="13" stroke-linecap="round" stroke-linejoin="round" opacity="1.0" filter="url(#b3)"/>
<path d="M1007.52,984.05 C1012.47,984.18 1027.34,984.9 1037.25,984.83 C1047.16,984.77 1062.02,983.85 1066.98,983.66" fill="none" stroke="#1e1e1e" stroke-width="13" stroke-linecap="round" stroke-linejoin="round" opacity="1.0" filter="url(#b3)"/>
<path d="M1087.71,984.05 C1092.34,984.18 1106.22,984.9 1115.48,984.83 C1124.74,984.77 1138.62,983.85 1143.25,983.66" fill="none" stroke="#1e1e1e" stroke-width="13" stroke-linecap="round" stroke-linejoin="round" opacity="1.0" filter="url(#b3)"/>
<path d="M1163.98,984.05 C1168.94,984.18 1183.8,984.9 1193.71,984.83 C1203.62,984.77 1218.49,983.85 1223.44,983.66" fill="none" stroke="#151515" stroke-width="13" stroke-linecap="round" stroke-linejoin="round" opacity="1.0" filter="url(#b3)"/>
<path d="M1246.13,984.05 C1251.08,984.18 1265.95,984.9 1275.86,984.83 C1285.77,984.77 1300.63,983.85 1305.58,983.66" fill="none" stroke="#3c3c3c" stroke-width="13" stroke-linecap="round" stroke-linejoin="round" opacity="1.0" filter="url(#b3)"/>
</g>
<clipPath id="cb5"><rect x="665.6" y="1011.7" width="651.4" height="59.9"/></clipPath>
<g clip-path="url(#cb5)">
<rect x="665.6" y="1011.7" width="651.4" height="59.9" fill="#f6f6f6"/>
<path d="M689.12,1046.16 C691.72,1046.81 698.24,1049.68 704.76,1050.07 C711.28,1050.46 719.89,1049.03 728.23,1048.5 C736.58,1047.98 750.4,1047.2 754.83,1046.94" fill="none" stroke="#2c2c2c" stroke-width="4.4" stroke-linecap="round" stroke-linejoin="round" opacity="1.0" filter="url(#b1)"/>
<path d="M763.44,1041.46 C766.04,1042.83 773.22,1047.98 779.08,1049.68 C784.95,1051.37 789.51,1051.7 798.64,1051.63 C807.77,1051.57 825.04,1050.59 833.85,1049.29 C842.65,1047.98 847.08,1045.5 851.45,1043.81 C855.82,1042.11 858.62,1039.9 860.05,1039.12" fill="none" stroke="#1c1c1c" stroke-width="5.6" stroke-linecap="round" stroke-linejoin="round" opacity="1.0" filter="url(#b1)"/>
<path d="M860.05,1039.12 C862.2,1040.55 867.55,1045.83 872.96,1047.72 C878.37,1049.61 885.67,1050.46 892.52,1050.46 C899.36,1050.46 908.82,1048.96 914.03,1047.72 C919.25,1046.48 922.18,1043.81 923.81,1043.03" fill="none" stroke="#343434" stroke-width="4.4" stroke-linecap="round" stroke-linejoin="round" opacity="1.0" filter="url(#b1)"/>
<path d="M929.68,1046.94 C932.61,1047.53 940.44,1049.94 947.28,1050.46 C954.13,1050.98 963.71,1050.26 970.75,1050.07 C977.79,1049.87 986.4,1049.42 989.53,1049.29" fill="none" stroke="#777" stroke-width="4" stroke-linecap="round" stroke-linejoin="round" opacity="1.0" filter="url(#b1)"/>
<path d="M1002.04,1045.37 C1005.3,1046.29 1014.43,1049.81 1021.6,1050.85 C1028.77,1051.89 1037.9,1052.15 1045.07,1051.63 C1052.24,1051.11 1060.07,1049.16 1064.63,1047.72 C1069.19,1046.29 1071.15,1043.81 1072.45,1043.03" fill="none" stroke="#080808" stroke-width="7.6" stroke-linecap="round" stroke-linejoin="round" opacity="1.0" filter="url(#b1)"/>
<path d="M1074.41,1044.98 C1077.34,1045.83 1085.82,1048.96 1092.01,1050.07 C1098.2,1051.18 1104.4,1051.76 1111.57,1051.63 C1118.74,1051.5 1129.04,1050.59 1135.04,1049.29 C1141.04,1047.98 1145.47,1044.72 1147.56,1043.81" fill="none" stroke="#444" stroke-width="3.6" stroke-linecap="round" stroke-linejoin="round" opacity="1.0" filter="url(#b1)"/>
<path d="M1150.68,1044.98 C1153.29,1045.7 1159.81,1048.37 1166.33,1049.29 C1172.85,1050.2 1182.3,1050.59 1189.8,1050.46 C1197.3,1050.33 1205.97,1049.87 1211.31,1048.5 C1216.66,1047.13 1220.12,1043.29 1221.88,1042.25" fill="none" stroke="#444" stroke-width="3.6" stroke-linecap="round" stroke-linejoin="round" opacity="1.0" filter="url(#b1)"/>
<path d="M1225,1041.46 C1227.61,1042.51 1234.78,1046.55 1240.65,1047.72 C1246.52,1048.89 1253.04,1048.63 1260.21,1048.5 C1267.38,1048.37 1277.49,1048.24 1283.68,1046.94 C1289.87,1045.64 1294.24,1042.51 1297.37,1040.68 C1300.5,1038.86 1301.61,1036.77 1302.45,1035.99" fill="none" stroke="#242424" stroke-width="4.8" stroke-linecap="round" stroke-linejoin="round" opacity="1.0" filter="url(#b1)"/>
</g>
<clipPath id="cb6"><rect x="665.6" y="1076.3" width="651.4" height="41"/></clipPath>
<g clip-path="url(#cb6)">
<rect x="665.6" y="1076.3" width="651.4" height="41" fill="#f1f1f1"/>
<rect x="683.25" y="1084.1" width="60.63" height="33.25" fill="#cdcdcd" opacity="1.0" filter="url(#b3)"/>
<rect x="1007.91" y="1078.23" width="52.81" height="39.12" fill="#d6d6d6" opacity="1.0" filter="url(#b3)"/>
<rect x="1083.41" y="1077.45" width="56.33" height="39.9" fill="#8c8c8c" opacity="1.0" filter="url(#b3)"/>
<rect x="1162.42" y="1080.19" width="58.67" height="37.16" fill="#dedede" opacity="1.0" filter="url(#b3)"/>
<rect x="1244.56" y="1080.19" width="58.67" height="37.16" fill="#e6e6e6" opacity="1.0" filter="url(#b3)"/>
<rect x="749.75" y="1074.32" width="17.6" height="44.98" fill="#fbfbfb" opacity="1.0" filter="url(#b3)"/>
<rect x="1064.63" y="1074.32" width="15.65" height="44.98" fill="#fbfbfb" opacity="1.0" filter="url(#b3)"/>
<path d="M683.25,1091.53 C685.53,1091.79 692.7,1092.57 696.94,1093.1 C701.18,1093.62 706.72,1094.4 708.67,1094.66" fill="none" stroke="#000" stroke-width="10" stroke-linecap="round" stroke-linejoin="round" opacity="1.0" filter="url(#b1)"/>
<path d="M689.12,1093.88 C693.68,1094.01 707.37,1094.79 716.5,1094.66 C725.62,1094.53 739.31,1093.36 743.88,1093.1" fill="none" stroke="#1a1a1a" stroke-width="5.5" stroke-linecap="round" stroke-linejoin="round" opacity="1.0" filter="url(#b1)"/>
<path d="M771.26,1091.53 C775.82,1091.4 789.19,1090.75 798.64,1090.75 C808.09,1090.75 823.09,1091.4 827.98,1091.53" fill="none" stroke="#cfcfcf" stroke-width="3.5" stroke-linecap="round" stroke-linejoin="round" opacity="1.0" filter="url(#b1)"/>
<path d="M851.45,1093.88 C855.68,1093.81 868.4,1093.36 876.87,1093.49 C885.35,1093.62 898.06,1094.47 902.3,1094.66" fill="none" stroke="#bcbcbc" stroke-width="3.5" stroke-linecap="round" stroke-linejoin="round" opacity="1.0" filter="url(#b1)"/>
<path d="M1009.87,1095.44 C1014.1,1095.31 1026.95,1094.66 1035.29,1094.66 C1043.64,1094.66 1055.83,1095.31 1059.94,1095.44" fill="none" stroke="#555" stroke-width="6.5" stroke-linecap="round" stroke-linejoin="round" opacity="1.0" filter="url(#b2)"/>
<path d="M1086.14,1097.79 C1090.38,1097.79 1102.9,1098.05 1111.57,1097.79 C1120.24,1097.53 1133.73,1096.49 1138.17,1096.23" fill="none" stroke="#000" stroke-width="15.5" stroke-linecap="round" stroke-linejoin="round" opacity="1.0" filter="url(#b2)"/>
<path d="M1164.38,1093.1 C1169.26,1093.23 1184.39,1094.01 1193.71,1093.88 C1203.03,1093.75 1215.88,1092.57 1220.31,1092.31" fill="none" stroke="#6c6c6c" stroke-width="4" stroke-linecap="round" stroke-linejoin="round" opacity="1.0" filter="url(#b1)"/>
<path d="M1246.52,1093.1 C1251.41,1092.9 1266.53,1092.05 1275.86,1091.92 C1285.18,1091.79 1298.02,1092.25 1302.45,1092.31" fill="none" stroke="#8e8e8e" stroke-width="3.2" stroke-linecap="round" stroke-linejoin="round" opacity="1.0" filter="url(#b1)"/>
<rect x="665.6" y="1076.3" width="651.4" height="41" fill="#000" opacity="0.07" filter="url(#nz)"/>
</g>
<clipPath id="cb7"><rect x="665.6" y="1139" width="651.4" height="48.8"/></clipPath>
<g clip-path="url(#cb7)">
<rect x="665.6" y="1139" width="651.4" height="48.8" fill="#fbfbfb"/>
<path d="M675.43,1155.68 C678.36,1155.94 688.79,1157.12 693.03,1157.25 C697.27,1157.38 694.98,1155.94 700.85,1156.46 C706.72,1156.99 720.08,1159.46 728.23,1160.38 C736.38,1161.29 744.53,1162.33 749.75,1161.94 C754.96,1161.55 757.89,1158.68 759.52,1158.03" fill="none" stroke="#161616" stroke-width="4.7" stroke-linecap="round" stroke-linejoin="round" opacity="1.0" filter="url(#b1)"/>
<path d="M761.48,1158.81 C764.41,1159.85 771.59,1163.7 779.08,1165.07 C786.58,1166.44 798.64,1166.89 806.46,1167.03 C814.29,1167.16 821.33,1166.83 826.02,1165.85 C830.72,1164.87 833.19,1161.94 834.63,1161.16" fill="none" stroke="#0c0c0c" stroke-width="6" stroke-linecap="round" stroke-linejoin="round" opacity="1.0" filter="url(#b1)"/>
<path d="M835.8,1161.16 C838.73,1162.07 846.56,1165.59 853.4,1166.63 C860.25,1167.68 869.05,1167.68 876.87,1167.42 C884.7,1167.16 894.8,1166.24 900.34,1165.07 C905.88,1163.9 908.49,1161.16 910.12,1160.38" fill="none" stroke="#2a2a2a" stroke-width="4.7" stroke-linecap="round" stroke-linejoin="round" opacity="1.0" filter="url(#b1)"/>
<path d="M915.99,1160.38 C919.25,1160.7 927.72,1162.07 935.55,1162.33 C943.37,1162.59 954.45,1162.14 962.93,1161.94 C971.4,1161.74 982.49,1161.29 986.4,1161.16" fill="none" stroke="#505050" stroke-width="3.8" stroke-linecap="round" stroke-linejoin="round" opacity="1.0" filter="url(#b1)"/>
<path d="M923.81,1165.85 C929.03,1166.11 945.33,1167.03 955.1,1167.42 C964.88,1167.81 977.92,1168.07 982.49,1168.2" fill="none" stroke="#c4c4c4" stroke-width="2.1" stroke-linecap="round" stroke-linejoin="round" opacity="1.0" filter="url(#b1)"/>
<path d="M990.31,1159.59 C992.92,1160.77 999.44,1165.07 1005.96,1166.63 C1012.47,1168.2 1021.6,1168.98 1029.42,1168.98 C1037.25,1168.98 1047.03,1168.07 1052.89,1166.63 C1058.76,1165.2 1062.67,1161.42 1064.63,1160.38" fill="none" stroke="#1e1e1e" stroke-width="5.1" stroke-linecap="round" stroke-linejoin="round" opacity="1.0" filter="url(#b1)"/>
<path d="M1066.59,1161.16 C1069.52,1162.2 1077.34,1166.11 1084.19,1167.42 C1091.03,1168.72 1099.83,1169.05 1107.66,1168.98 C1115.48,1168.92 1125.45,1167.94 1131.13,1167.03 C1136.8,1166.11 1139.93,1164.09 1141.69,1163.5" fill="none" stroke="#303030" stroke-width="4.7" stroke-linecap="round" stroke-linejoin="round" opacity="1.0" filter="url(#b1)"/>
<path d="M1142.86,1164.29 C1146.12,1165.2 1154.6,1168.66 1162.42,1169.76 C1170.24,1170.87 1181.98,1170.94 1189.8,1170.94 C1197.62,1170.94 1204.01,1170.87 1209.36,1169.76 C1214.7,1168.66 1219.79,1165.2 1221.88,1164.29" fill="none" stroke="#262626" stroke-width="4.7" stroke-linecap="round" stroke-linejoin="round" opacity="1.0" filter="url(#b1)"/>
<path d="M1225,1165.07 C1228.26,1165.98 1237.39,1169.63 1244.56,1170.55 C1251.73,1171.46 1260.21,1171.2 1268.03,1170.55 C1275.86,1169.89 1285.63,1168.2 1291.5,1166.63 C1297.37,1165.07 1301.28,1162.07 1303.24,1161.16" fill="none" stroke="#666" stroke-width="4.2" stroke-linecap="round" stroke-linejoin="round" opacity="1.0" filter="url(#b1)"/>
<path d="M1232.83,1172.11 C1238.04,1172.5 1253.69,1174.72 1264.12,1174.46 C1274.55,1174.2 1290.2,1171.2 1295.41,1170.55" fill="none" stroke="#aaa" stroke-width="2.1" stroke-linecap="round" stroke-linejoin="round" opacity="1.0" filter="url(#b1)"/>
</g>
<rect x="212.93" y="1572.45" width="75.13" height="77.15" fill="#636363" stroke="#000" stroke-width="3.9"/>
<rect x="292.83" y="1630.75" width="75.13" height="18.85" fill="#636363" stroke="#000" stroke-width="3.9"/>
<rect x="372.43" y="1461.45" width="75.13" height="188.15" fill="#f0f0f0" stroke="#000" stroke-width="3.9"/>
<rect x="452.43" y="1593.25" width="75.13" height="56.35" fill="#f0f0f0" stroke="#000" stroke-width="3.9"/>
<line x1="210.9" y1="1283.95" x2="210.9" y2="1651.55" stroke="#000" stroke-width="3.9" stroke-linecap="butt"/>
<line x1="200" y1="1649.6" x2="533.3" y2="1649.6" stroke="#000" stroke-width="3.9" stroke-linecap="butt"/>
<line x1="200" y1="1285.9" x2="210.9" y2="1285.9" stroke="#000" stroke-width="3.9" stroke-linecap="butt"/>
<text x="196" y="1296.27" font-family='"Liberation Sans", Arial, sans-serif' font-size="27.3" font-weight="bold" font-style="normal" text-anchor="end">4</text>
<line x1="200" y1="1376.8" x2="210.9" y2="1376.8" stroke="#000" stroke-width="3.9" stroke-linecap="butt"/>
<text x="196" y="1387.17" font-family='"Liberation Sans", Arial, sans-serif' font-size="27.3" font-weight="bold" font-style="normal" text-anchor="end">3</text>
<line x1="200" y1="1467.7" x2="210.9" y2="1467.7" stroke="#000" stroke-width="3.9" stroke-linecap="butt"/>
<text x="196" y="1478.07" font-family='"Liberation Sans", Arial, sans-serif' font-size="27.3" font-weight="bold" font-style="normal" text-anchor="end">2</text>
<line x1="200" y1="1558.7" x2="210.9" y2="1558.7" stroke="#000" stroke-width="3.9" stroke-linecap="butt"/>
<text x="196" y="1569.07" font-family='"Liberation Sans", Arial, sans-serif' font-size="27.3" font-weight="bold" font-style="normal" text-anchor="end">1</text>
<line x1="200" y1="1649.6" x2="210.9" y2="1649.6" stroke="#000" stroke-width="3.9" stroke-linecap="butt"/>
<text x="196" y="1659.97" font-family='"Liberation Sans", Arial, sans-serif' font-size="27.3" font-weight="bold" font-style="normal" text-anchor="end">0</text>
<line x1="250.5" y1="1649.6" x2="250.5" y2="1661.1" stroke="#000" stroke-width="3.9" stroke-linecap="butt"/>
<line x1="330.4" y1="1649.6" x2="330.4" y2="1661.1" stroke="#000" stroke-width="3.9" stroke-linecap="butt"/>
<line x1="410" y1="1649.6" x2="410" y2="1661.1" stroke="#000" stroke-width="3.9" stroke-linecap="butt"/>
<line x1="490" y1="1649.6" x2="490" y2="1661.1" stroke="#000" stroke-width="3.9" stroke-linecap="butt"/>
<line x1="250.5" y1="1560.6" x2="250.5" y2="1581.3" stroke="#000" stroke-width="1.8" stroke-linecap="butt"/>
<line x1="231.5" y1="1560.6" x2="269.5" y2="1560.6" stroke="#000" stroke-width="1.8" stroke-linecap="butt"/>
<line x1="231.5" y1="1581.3" x2="269.5" y2="1581.3" stroke="#000" stroke-width="1.8" stroke-linecap="butt"/>
<line x1="330.4" y1="1626" x2="330.4" y2="1634.5" stroke="#000" stroke-width="1.8" stroke-linecap="butt"/>
<line x1="311.4" y1="1626" x2="349.4" y2="1626" stroke="#000" stroke-width="1.8" stroke-linecap="butt"/>
<line x1="311.4" y1="1634.5" x2="349.4" y2="1634.5" stroke="#000" stroke-width="1.8" stroke-linecap="butt"/>
<line x1="410" y1="1428" x2="410" y2="1492.5" stroke="#000" stroke-width="1.8" stroke-linecap="butt"/>
<line x1="391" y1="1428" x2="429" y2="1428" stroke="#000" stroke-width="1.8" stroke-linecap="butt"/>
<line x1="391" y1="1492.5" x2="429" y2="1492.5" stroke="#000" stroke-width="1.8" stroke-linecap="butt"/>
<line x1="490" y1="1572" x2="490" y2="1610.5" stroke="#000" stroke-width="1.8" stroke-linecap="butt"/>
<line x1="471" y1="1572" x2="509" y2="1572" stroke="#000" stroke-width="1.8" stroke-linecap="butt"/>
<line x1="471" y1="1610.5" x2="509" y2="1610.5" stroke="#000" stroke-width="1.8" stroke-linecap="butt"/>
<circle cx="250.5" cy="1522" r="7.8" fill="#000"/>
<circle cx="221" cy="1558.3" r="7.8" fill="#000"/>
<circle cx="261.4" cy="1558.3" r="7.8" fill="#000"/>
<circle cx="280.5" cy="1558.3" r="7.8" fill="#000"/>
<circle cx="240.7" cy="1567.2" r="7.8" fill="#000"/>
<circle cx="230.2" cy="1595" r="7.8" fill="#000"/>
<circle cx="250.5" cy="1594.4" r="7.8" fill="#000"/>
<circle cx="270.3" cy="1612.5" r="7.8" fill="#000"/>
<circle cx="329.8" cy="1612.5" r="6.9" fill="#fff" stroke="#000" stroke-width="2.2"/>
<path d="M329.8,1605.6 A6.9,6.9 0 0 0 329.8,1619.4 Z" fill="#000"/>
<circle cx="338" cy="1621.4" r="6.9" fill="#fff" stroke="#000" stroke-width="2.2"/>
<path d="M338,1614.5 A6.9,6.9 0 0 0 338,1628.3 Z" fill="#000"/>
<circle cx="298.5" cy="1631.3" r="6.9" fill="#fff" stroke="#000" stroke-width="2.2"/>
<path d="M298.5,1624.4 A6.9,6.9 0 0 0 298.5,1638.2 Z" fill="#000"/>
<circle cx="310.7" cy="1631.3" r="6.9" fill="#fff" stroke="#000" stroke-width="2.2"/>
<path d="M310.7,1624.4 A6.9,6.9 0 0 0 310.7,1638.2 Z" fill="#000"/>
<circle cx="323.9" cy="1631.3" r="6.9" fill="#fff" stroke="#000" stroke-width="2.2"/>
<path d="M323.9,1624.4 A6.9,6.9 0 0 0 323.9,1638.2 Z" fill="#000"/>
<circle cx="349.2" cy="1631.3" r="6.9" fill="#fff" stroke="#000" stroke-width="2.2"/>
<path d="M349.2,1624.4 A6.9,6.9 0 0 0 349.2,1638.2 Z" fill="#000"/>
<circle cx="361.7" cy="1640.5" r="6.9" fill="#fff" stroke="#000" stroke-width="2.2"/>
<path d="M361.7,1633.6 A6.9,6.9 0 0 0 361.7,1647.4 Z" fill="#000"/>
<polygon points="411,1342.4 419.2,1358.4 402.8,1358.4" fill="#000"/>
<polygon points="411,1369.4 419.2,1385.4 402.8,1385.4" fill="#000"/>
<polygon points="411,1460.4 419.2,1476.4 402.8,1476.4" fill="#000"/>
<polygon points="411,1496.1 419.2,1512.1 402.8,1512.1" fill="#000"/>
<polygon points="390.6,1514.2 398.8,1530.2 382.4,1530.2" fill="#000"/>
<polygon points="430,1532.9 438.2,1548.9 421.8,1548.9" fill="#000"/>
<polygon points="490.6,1487.62 497.73,1501.9 483.47,1501.9" fill="#fff" stroke="#000" stroke-width="2.2" stroke-linejoin="miter"/>
<polygon points="490.6,1485.2 490.6,1503 481.6,1503" fill="#000"/>
<polygon points="490.6,1551.82 497.73,1566.1 483.47,1566.1" fill="#fff" stroke="#000" stroke-width="2.2" stroke-linejoin="miter"/>
<polygon points="490.6,1549.4 490.6,1567.2 481.6,1567.2" fill="#000"/>
<polygon points="490.6,1579.72 497.73,1594 483.47,1594" fill="#fff" stroke="#000" stroke-width="2.2" stroke-linejoin="miter"/>
<polygon points="490.6,1577.3 490.6,1595.1 481.6,1595.1" fill="#000"/>
<polygon points="461,1606.02 468.13,1620.3 453.87,1620.3" fill="#fff" stroke="#000" stroke-width="2.2" stroke-linejoin="miter"/>
<polygon points="461,1603.6 461,1621.4 452,1621.4" fill="#000"/>
<polygon points="481,1615.82 488.13,1630.1 473.87,1630.1" fill="#fff" stroke="#000" stroke-width="2.2" stroke-linejoin="miter"/>
<polygon points="481,1613.4 481,1631.2 472,1631.2" fill="#000"/>
<polygon points="501.4,1624.82 508.53,1639.1 494.27,1639.1" fill="#fff" stroke="#000" stroke-width="2.2" stroke-linejoin="miter"/>
<polygon points="501.4,1622.4 501.4,1640.2 492.4,1640.2" fill="#000"/>
<polygon points="521.1,1624.82 528.23,1639.1 513.97,1639.1" fill="#fff" stroke="#000" stroke-width="2.2" stroke-linejoin="miter"/>
<polygon points="521.1,1622.4 521.1,1640.2 512.1,1640.2" fill="#000"/>
<text x="156.3" y="1453.1" font-family='"Liberation Sans", Arial, sans-serif' font-size="38.8" font-weight="bold" font-style="normal" text-anchor="middle" transform="rotate(-90 156.3 1453.1)">FAS/β-Actin</text>
<text x="250.5" y="1689.08" font-family='"DejaVu Sans", "Liberation Sans", sans-serif' font-size="31.95" font-weight="normal" font-style="normal" text-anchor="middle">+</text>
<text x="328.8" y="1689.08" font-family='"DejaVu Sans", "Liberation Sans", sans-serif' font-size="31.95" font-weight="normal" font-style="normal" text-anchor="middle">−</text>
<text x="407.7" y="1689.08" font-family='"DejaVu Sans", "Liberation Sans", sans-serif' font-size="31.95" font-weight="normal" font-style="normal" text-anchor="middle">+</text>
<text x="483.3" y="1689.08" font-family='"DejaVu Sans", "Liberation Sans", sans-serif' font-size="31.95" font-weight="normal" font-style="normal" text-anchor="middle">−</text>
<text x="253.2" y="1733.08" font-family='"DejaVu Sans", "Liberation Sans", sans-serif' font-size="31.95" font-weight="normal" font-style="normal" text-anchor="middle">−</text>
<text x="331.4" y="1733.08" font-family='"DejaVu Sans", "Liberation Sans", sans-serif' font-size="31.95" font-weight="normal" font-style="normal" text-anchor="middle">+</text>
<text x="411" y="1733.08" font-family='"DejaVu Sans", "Liberation Sans", sans-serif' font-size="31.95" font-weight="normal" font-style="normal" text-anchor="middle">−</text>
<text x="480" y="1733.08" font-family='"DejaVu Sans", "Liberation Sans", sans-serif' font-size="31.95" font-weight="normal" font-style="normal" text-anchor="middle">+</text>
<line x1="228.5" y1="1739" x2="379.8" y2="1739" stroke="#000" stroke-width="1.8" stroke-linecap="butt"/>
<line x1="396.2" y1="1737" x2="547.4" y2="1737" stroke="#000" stroke-width="1.8" stroke-linecap="butt"/>
<text x="303.7" y="1773" font-family='"Liberation Sans", Arial, sans-serif' font-size="37" font-weight="bold" font-style="normal" text-anchor="middle">wt</text>
<text x="384.8" y="1773" font-family='"Liberation Sans", Arial, sans-serif' font-size="38" font-weight="bold" text-anchor="start">C3GKO<tspan font-size="25" dy="-10.5" dx="1.5">Alb</tspan></text>
<text x="34" y="1687.8" font-family='"Liberation Sans", Arial, sans-serif' font-size="38" font-weight="bold" font-style="normal" text-anchor="start">Ad libitum</text>
<text x="17" y="1732.2" font-family='"Liberation Sans", Arial, sans-serif' font-size="38" font-weight="bold" font-style="normal" text-anchor="start">48h fasting</text>
<polyline points="255.8,1533.6 255.8,1320.6 403.8,1320.6" fill="none" stroke="#000" stroke-width="1.5" stroke-linecap="butt" stroke-linejoin="miter"/>
<polyline points="410.3,1284.4 490.6,1284.4 490.6,1478.4" fill="none" stroke="#000" stroke-width="1.5" stroke-linecap="butt" stroke-linejoin="miter"/>
<text x="338.2" y="1320.48" font-family='"Liberation Serif", "Times New Roman", serif' font-size="34" font-weight="bold" font-style="normal" text-anchor="middle">**</text>
<text x="451.2" y="1288.48" font-family='"Liberation Serif", "Times New Roman", serif' font-size="34" font-weight="bold" font-style="normal" text-anchor="middle">***</text>
<rect x="627.15" y="1519.45" width="75.7" height="133.45" fill="#636363" stroke="#000" stroke-width="3.9"/>
<rect x="707.65" y="1557.45" width="75.7" height="95.45" fill="#636363" stroke="#000" stroke-width="3.9"/>
<rect x="787.95" y="1471.15" width="75.7" height="181.75" fill="#f0f0f0" stroke="#000" stroke-width="3.9"/>
<rect x="868.35" y="1502.45" width="75.7" height="150.45" fill="#f0f0f0" stroke="#000" stroke-width="3.9"/>
<line x1="625.5" y1="1285.15" x2="625.5" y2="1654.85" stroke="#000" stroke-width="3.9" stroke-linecap="butt"/>
<line x1="614" y1="1652.9" x2="949.5" y2="1652.9" stroke="#000" stroke-width="3.9" stroke-linecap="butt"/>
<line x1="614" y1="1287.1" x2="625.5" y2="1287.1" stroke="#000" stroke-width="3.9" stroke-linecap="butt"/>
<text x="609" y="1297.47" font-family='"Liberation Sans", Arial, sans-serif' font-size="27.3" font-weight="bold" font-style="normal" text-anchor="end">3</text>
<line x1="614" y1="1409" x2="625.5" y2="1409" stroke="#000" stroke-width="3.9" stroke-linecap="butt"/>
<text x="609" y="1419.37" font-family='"Liberation Sans", Arial, sans-serif' font-size="27.3" font-weight="bold" font-style="normal" text-anchor="end">2</text>
<line x1="614" y1="1531" x2="625.5" y2="1531" stroke="#000" stroke-width="3.9" stroke-linecap="butt"/>
<text x="609" y="1541.37" font-family='"Liberation Sans", Arial, sans-serif' font-size="27.3" font-weight="bold" font-style="normal" text-anchor="end">1</text>
<line x1="614" y1="1652.9" x2="625.5" y2="1652.9" stroke="#000" stroke-width="3.9" stroke-linecap="butt"/>
<text x="609" y="1663.27" font-family='"Liberation Sans", Arial, sans-serif' font-size="27.3" font-weight="bold" font-style="normal" text-anchor="end">0</text>
<line x1="665" y1="1652.9" x2="665" y2="1664.4" stroke="#000" stroke-width="3.9" stroke-linecap="butt"/>
<line x1="745.5" y1="1652.9" x2="745.5" y2="1664.4" stroke="#000" stroke-width="3.9" stroke-linecap="butt"/>
<line x1="825.8" y1="1652.9" x2="825.8" y2="1664.4" stroke="#000" stroke-width="3.9" stroke-linecap="butt"/>
<line x1="906.2" y1="1652.9" x2="906.2" y2="1664.4" stroke="#000" stroke-width="3.9" stroke-linecap="butt"/>
<line x1="665" y1="1499.9" x2="665" y2="1536" stroke="#000" stroke-width="1.8" stroke-linecap="butt"/>
<line x1="646" y1="1499.9" x2="684" y2="1499.9" stroke="#000" stroke-width="1.8" stroke-linecap="butt"/>
<line x1="646" y1="1536" x2="684" y2="1536" stroke="#000" stroke-width="1.8" stroke-linecap="butt"/>
<line x1="745.5" y1="1538.5" x2="745.5" y2="1573.3" stroke="#000" stroke-width="1.8" stroke-linecap="butt"/>
<line x1="726.5" y1="1538.5" x2="764.5" y2="1538.5" stroke="#000" stroke-width="1.8" stroke-linecap="butt"/>
<line x1="726.5" y1="1573.3" x2="764.5" y2="1573.3" stroke="#000" stroke-width="1.8" stroke-linecap="butt"/>
<line x1="825.8" y1="1436" x2="825.8" y2="1501.8" stroke="#000" stroke-width="1.8" stroke-linecap="butt"/>
<line x1="806.8" y1="1436" x2="844.8" y2="1436" stroke="#000" stroke-width="1.8" stroke-linecap="butt"/>
<line x1="806.8" y1="1501.8" x2="844.8" y2="1501.8" stroke="#000" stroke-width="1.8" stroke-linecap="butt"/>
<line x1="906.2" y1="1484.9" x2="906.2" y2="1517.6" stroke="#000" stroke-width="1.8" stroke-linecap="butt"/>
<line x1="887.2" y1="1484.9" x2="925.2" y2="1484.9" stroke="#000" stroke-width="1.8" stroke-linecap="butt"/>
<line x1="887.2" y1="1517.6" x2="925.2" y2="1517.6" stroke="#000" stroke-width="1.8" stroke-linecap="butt"/>
<circle cx="665.2" cy="1421.8" r="7.8" fill="#000"/>
<circle cx="665.2" cy="1470.7" r="7.8" fill="#000"/>
<circle cx="665.2" cy="1518.9" r="7.8" fill="#000"/>
<circle cx="635.2" cy="1532" r="7.8" fill="#000"/>
<circle cx="654.8" cy="1532" r="7.8" fill="#000"/>
<circle cx="675.2" cy="1532" r="7.8" fill="#000"/>
<circle cx="695.6" cy="1544" r="7.8" fill="#000"/>
<circle cx="665.2" cy="1593" r="7.8" fill="#000"/>
<circle cx="746" cy="1458.5" r="6.9" fill="#fff" stroke="#000" stroke-width="2.2"/>
<path d="M746,1451.6 A6.9,6.9 0 0 0 746,1465.4 Z" fill="#000"/>
<circle cx="746" cy="1507.2" r="6.9" fill="#fff" stroke="#000" stroke-width="2.2"/>
<path d="M746,1500.3 A6.9,6.9 0 0 0 746,1514.1 Z" fill="#000"/>
<circle cx="746" cy="1555.6" r="6.9" fill="#fff" stroke="#000" stroke-width="2.2"/>
<path d="M746,1548.7 A6.9,6.9 0 0 0 746,1562.5 Z" fill="#000"/>
<circle cx="746" cy="1567.9" r="6.9" fill="#fff" stroke="#000" stroke-width="2.2"/>
<path d="M746,1561 A6.9,6.9 0 0 0 746,1574.8 Z" fill="#000"/>
<circle cx="718.8" cy="1568.4" r="6.9" fill="#fff" stroke="#000" stroke-width="2.2"/>
<path d="M718.8,1561.5 A6.9,6.9 0 0 0 718.8,1575.3 Z" fill="#000"/>
<circle cx="773.2" cy="1580.7" r="6.9" fill="#fff" stroke="#000" stroke-width="2.2"/>
<path d="M773.2,1573.8 A6.9,6.9 0 0 0 773.2,1587.6 Z" fill="#000"/>
<circle cx="732.4" cy="1605.2" r="6.9" fill="#fff" stroke="#000" stroke-width="2.2"/>
<path d="M732.4,1598.3 A6.9,6.9 0 0 0 732.4,1612.1 Z" fill="#000"/>
<circle cx="759" cy="1605.2" r="6.9" fill="#fff" stroke="#000" stroke-width="2.2"/>
<path d="M759,1598.3 A6.9,6.9 0 0 0 759,1612.1 Z" fill="#000"/>
<polygon points="846.7,1353 854.9,1369 838.5,1369" fill="#000"/>
<polygon points="806.1,1365.3 814.3,1381.3 797.9,1381.3" fill="#000"/>
<polygon points="826.3,1413.7 834.5,1429.7 818.1,1429.7" fill="#000"/>
<polygon points="826.3,1474.9 834.5,1490.9 818.1,1490.9" fill="#000"/>
<polygon points="806.1,1511.7 814.3,1527.7 797.9,1527.7" fill="#000"/>
<polygon points="846.7,1523.9 854.9,1539.9 838.5,1539.9" fill="#000"/>
<polygon points="826.3,1585.1 834.5,1601.1 818.1,1601.1" fill="#000"/>
<polygon points="906.8,1427.42 913.93,1441.7 899.67,1441.7" fill="#fff" stroke="#000" stroke-width="2.2" stroke-linejoin="miter"/>
<polygon points="906.8,1425 906.8,1442.8 897.8,1442.8" fill="#000"/>
<polygon points="906.8,1464.12 913.93,1478.4 899.67,1478.4" fill="#fff" stroke="#000" stroke-width="2.2" stroke-linejoin="miter"/>
<polygon points="906.8,1461.7 906.8,1479.5 897.8,1479.5" fill="#000"/>
<polygon points="934,1476.32 941.13,1490.6 926.87,1490.6" fill="#fff" stroke="#000" stroke-width="2.2" stroke-linejoin="miter"/>
<polygon points="934,1473.9 934,1491.7 925,1491.7" fill="#000"/>
<polygon points="880.1,1488.62 887.23,1502.9 872.97,1502.9" fill="#fff" stroke="#000" stroke-width="2.2" stroke-linejoin="miter"/>
<polygon points="880.1,1486.2 880.1,1504 871.1,1504" fill="#000"/>
<polygon points="906.8,1488.62 913.93,1502.9 899.67,1502.9" fill="#fff" stroke="#000" stroke-width="2.2" stroke-linejoin="miter"/>
<polygon points="906.8,1486.2 906.8,1504 897.8,1504" fill="#000"/>
<polygon points="893.2,1513.12 900.33,1527.4 886.07,1527.4" fill="#fff" stroke="#000" stroke-width="2.2" stroke-linejoin="miter"/>
<polygon points="893.2,1510.7 893.2,1528.5 884.2,1528.5" fill="#000"/>
<polygon points="920.4,1513.12 927.53,1527.4 913.27,1527.4" fill="#fff" stroke="#000" stroke-width="2.2" stroke-linejoin="miter"/>
<polygon points="920.4,1510.7 920.4,1528.5 911.4,1528.5" fill="#000"/>
<polygon points="906.8,1586.52 913.93,1600.8 899.67,1600.8" fill="#fff" stroke="#000" stroke-width="2.2" stroke-linejoin="miter"/>
<polygon points="906.8,1584.1 906.8,1601.9 897.8,1601.9" fill="#000"/>
<text x="588.5" y="1476.6" font-family='"Liberation Sans", Arial, sans-serif' font-size="38.8" font-weight="bold" font-style="normal" text-anchor="middle" transform="rotate(-90 588.5 1476.6)">P-ACC/β-Actin</text>
<text x="665.7" y="1690.28" font-family='"DejaVu Sans", "Liberation Sans", sans-serif' font-size="31.95" font-weight="normal" font-style="normal" text-anchor="middle">+</text>
<text x="745.4" y="1690.28" font-family='"DejaVu Sans", "Liberation Sans", sans-serif' font-size="31.95" font-weight="normal" font-style="normal" text-anchor="middle">−</text>
<text x="823.5" y="1690.28" font-family='"DejaVu Sans", "Liberation Sans", sans-serif' font-size="31.95" font-weight="normal" font-style="normal" text-anchor="middle">+</text>
<text x="899" y="1690.28" font-family='"DejaVu Sans", "Liberation Sans", sans-serif' font-size="31.95" font-weight="normal" font-style="normal" text-anchor="middle">−</text>
<text x="669" y="1734.58" font-family='"DejaVu Sans", "Liberation Sans", sans-serif' font-size="31.95" font-weight="normal" font-style="normal" text-anchor="middle">−</text>
<text x="748" y="1734.58" font-family='"DejaVu Sans", "Liberation Sans", sans-serif' font-size="31.95" font-weight="normal" font-style="normal" text-anchor="middle">+</text>
<text x="827.6" y="1734.58" font-family='"DejaVu Sans", "Liberation Sans", sans-serif' font-size="31.95" font-weight="normal" font-style="normal" text-anchor="middle">−</text>
<text x="896.5" y="1734.58" font-family='"DejaVu Sans", "Liberation Sans", sans-serif' font-size="31.95" font-weight="normal" font-style="normal" text-anchor="middle">+</text>
<line x1="644.8" y1="1739.3" x2="795.8" y2="1739.3" stroke="#000" stroke-width="1.8" stroke-linecap="butt"/>
<line x1="813" y1="1738" x2="964.5" y2="1738" stroke="#000" stroke-width="1.8" stroke-linecap="butt"/>
<text x="719.5" y="1773" font-family='"Liberation Sans", Arial, sans-serif' font-size="37" font-weight="bold" font-style="normal" text-anchor="middle">wt</text>
<text x="802.1" y="1773" font-family='"Liberation Sans", Arial, sans-serif' font-size="38" font-weight="bold" text-anchor="start">C3GKO<tspan font-size="25" dy="-10.5" dx="1.5">Alb</tspan></text>
<rect x="1062.13" y="1587.45" width="71.73" height="65.55" fill="#636363" stroke="#000" stroke-width="3.9"/>
<rect x="1139.13" y="1626.35" width="71.73" height="26.65" fill="#636363" stroke="#000" stroke-width="3.9"/>
<rect x="1215.33" y="1485.35" width="71.73" height="167.65" fill="#f0f0f0" stroke="#000" stroke-width="3.9"/>
<rect x="1291.43" y="1548.75" width="71.73" height="104.25" fill="#f0f0f0" stroke="#000" stroke-width="3.9"/>
<line x1="1060.7" y1="1259.85" x2="1060.7" y2="1654.95" stroke="#000" stroke-width="3.9" stroke-linecap="butt"/>
<line x1="1049.3" y1="1653" x2="1369.5" y2="1653" stroke="#000" stroke-width="3.9" stroke-linecap="butt"/>
<line x1="1049.3" y1="1261.8" x2="1060.7" y2="1261.8" stroke="#000" stroke-width="3.9" stroke-linecap="butt"/>
<text x="1044" y="1272.17" font-family='"Liberation Sans", Arial, sans-serif' font-size="27.3" font-weight="bold" font-style="normal" text-anchor="end">6</text>
<line x1="1049.3" y1="1392.2" x2="1060.7" y2="1392.2" stroke="#000" stroke-width="3.9" stroke-linecap="butt"/>
<text x="1044" y="1402.57" font-family='"Liberation Sans", Arial, sans-serif' font-size="27.3" font-weight="bold" font-style="normal" text-anchor="end">4</text>
<line x1="1049.3" y1="1522.6" x2="1060.7" y2="1522.6" stroke="#000" stroke-width="3.9" stroke-linecap="butt"/>
<text x="1044" y="1532.97" font-family='"Liberation Sans", Arial, sans-serif' font-size="27.3" font-weight="bold" font-style="normal" text-anchor="end">2</text>
<line x1="1049.3" y1="1653" x2="1060.7" y2="1653" stroke="#000" stroke-width="3.9" stroke-linecap="butt"/>
<text x="1044" y="1663.37" font-family='"Liberation Sans", Arial, sans-serif' font-size="27.3" font-weight="bold" font-style="normal" text-anchor="end">0</text>
<line x1="1098" y1="1653" x2="1098" y2="1664.5" stroke="#000" stroke-width="3.9" stroke-linecap="butt"/>
<line x1="1175" y1="1653" x2="1175" y2="1664.5" stroke="#000" stroke-width="3.9" stroke-linecap="butt"/>
<line x1="1251.2" y1="1653" x2="1251.2" y2="1664.5" stroke="#000" stroke-width="3.9" stroke-linecap="butt"/>
<line x1="1327.3" y1="1653" x2="1327.3" y2="1664.5" stroke="#000" stroke-width="3.9" stroke-linecap="butt"/>
<line x1="1098" y1="1574.7" x2="1098" y2="1595" stroke="#000" stroke-width="1.8" stroke-linecap="butt"/>
<line x1="1079" y1="1574.7" x2="1117" y2="1574.7" stroke="#000" stroke-width="1.8" stroke-linecap="butt"/>
<line x1="1079" y1="1595" x2="1117" y2="1595" stroke="#000" stroke-width="1.8" stroke-linecap="butt"/>
<line x1="1175" y1="1619" x2="1175" y2="1632" stroke="#000" stroke-width="1.8" stroke-linecap="butt"/>
<line x1="1156" y1="1619" x2="1194" y2="1619" stroke="#000" stroke-width="1.8" stroke-linecap="butt"/>
<line x1="1156" y1="1632" x2="1194" y2="1632" stroke="#000" stroke-width="1.8" stroke-linecap="butt"/>
<line x1="1251.2" y1="1441.3" x2="1251.2" y2="1526.3" stroke="#000" stroke-width="1.8" stroke-linecap="butt"/>
<line x1="1232.2" y1="1441.3" x2="1270.2" y2="1441.3" stroke="#000" stroke-width="1.8" stroke-linecap="butt"/>
<line x1="1232.2" y1="1526.3" x2="1270.2" y2="1526.3" stroke="#000" stroke-width="1.8" stroke-linecap="butt"/>
<line x1="1327.3" y1="1526.3" x2="1327.3" y2="1566.5" stroke="#000" stroke-width="1.8" stroke-linecap="butt"/>
<line x1="1308.3" y1="1526.3" x2="1346.3" y2="1526.3" stroke="#000" stroke-width="1.8" stroke-linecap="butt"/>
<line x1="1308.3" y1="1566.5" x2="1346.3" y2="1566.5" stroke="#000" stroke-width="1.8" stroke-linecap="butt"/>
<circle cx="1089.3" cy="1542" r="7.8" fill="#000"/>
<circle cx="1108.3" cy="1562.4" r="7.8" fill="#000"/>
<circle cx="1126.8" cy="1568.4" r="7.8" fill="#000"/>
<circle cx="1070.2" cy="1581.5" r="7.8" fill="#000"/>
<circle cx="1089.3" cy="1588.3" r="7.8" fill="#000"/>
<circle cx="1108.3" cy="1588.3" r="7.8" fill="#000"/>
<circle cx="1089.3" cy="1614.1" r="7.8" fill="#000"/>
<circle cx="1108.3" cy="1633.2" r="7.8" fill="#000"/>
<circle cx="1146.4" cy="1620.4" r="6.9" fill="#fff" stroke="#000" stroke-width="2.2"/>
<path d="M1146.4,1613.5 A6.9,6.9 0 0 0 1146.4,1627.3 Z" fill="#000"/>
<circle cx="1158.1" cy="1620.4" r="6.9" fill="#fff" stroke="#000" stroke-width="2.2"/>
<path d="M1158.1,1613.5 A6.9,6.9 0 0 0 1158.1,1627.3 Z" fill="#000"/>
<circle cx="1169.5" cy="1614.1" r="6.9" fill="#fff" stroke="#000" stroke-width="2.2"/>
<path d="M1169.5,1607.2 A6.9,6.9 0 0 0 1169.5,1621 Z" fill="#000"/>
<circle cx="1180.4" cy="1614.1" r="6.9" fill="#fff" stroke="#000" stroke-width="2.2"/>
<path d="M1180.4,1607.2 A6.9,6.9 0 0 0 1180.4,1621 Z" fill="#000"/>
<circle cx="1169.5" cy="1626.4" r="6.9" fill="#fff" stroke="#000" stroke-width="2.2"/>
<path d="M1169.5,1619.5 A6.9,6.9 0 0 0 1169.5,1633.3 Z" fill="#000"/>
<circle cx="1180.4" cy="1621" r="6.9" fill="#fff" stroke="#000" stroke-width="2.2"/>
<path d="M1180.4,1614.1 A6.9,6.9 0 0 0 1180.4,1627.9 Z" fill="#000"/>
<circle cx="1191.3" cy="1633.7" r="6.9" fill="#fff" stroke="#000" stroke-width="2.2"/>
<path d="M1191.3,1626.8 A6.9,6.9 0 0 0 1191.3,1640.6 Z" fill="#000"/>
<circle cx="1203" cy="1640" r="6.9" fill="#fff" stroke="#000" stroke-width="2.2"/>
<path d="M1203,1633.1 A6.9,6.9 0 0 0 1203,1646.9 Z" fill="#000"/>
<polygon points="1251.2,1274.4 1259.4,1290.4 1243,1290.4" fill="#000"/>
<polygon points="1251.2,1339.4 1259.4,1355.4 1243,1355.4" fill="#000"/>
<polygon points="1270.2,1450.4 1278.4,1466.4 1262,1466.4" fill="#000"/>
<polygon points="1232.1,1463.5 1240.3,1479.5 1223.9,1479.5" fill="#000"/>
<polygon points="1232.1,1534.8 1240.3,1550.8 1223.9,1550.8" fill="#000"/>
<polygon points="1270.2,1547.9 1278.4,1563.9 1262,1563.9" fill="#000"/>
<polygon points="1232.1,1593.3 1240.3,1609.3 1223.9,1609.3" fill="#000"/>
<polygon points="1270.2,1606.9 1278.4,1622.9 1262,1622.9" fill="#000"/>
<polygon points="1327.9,1431.42 1335.03,1445.7 1320.77,1445.7" fill="#fff" stroke="#000" stroke-width="2.2" stroke-linejoin="miter"/>
<polygon points="1327.9,1429 1327.9,1446.8 1318.9,1446.8" fill="#000"/>
<polygon points="1327.9,1470.42 1335.03,1484.7 1320.77,1484.7" fill="#fff" stroke="#000" stroke-width="2.2" stroke-linejoin="miter"/>
<polygon points="1327.9,1468 1327.9,1485.8 1318.9,1485.8" fill="#000"/>
<polygon points="1337.7,1548.42 1344.83,1562.7 1330.57,1562.7" fill="#fff" stroke="#000" stroke-width="2.2" stroke-linejoin="miter"/>
<polygon points="1337.7,1546 1337.7,1563.8 1328.7,1563.8" fill="#000"/>
<polygon points="1317.8,1562.12 1324.93,1576.4 1310.67,1576.4" fill="#fff" stroke="#000" stroke-width="2.2" stroke-linejoin="miter"/>
<polygon points="1317.8,1559.7 1317.8,1577.5 1308.8,1577.5" fill="#000"/>
<polygon points="1300.1,1568.32 1307.23,1582.6 1292.97,1582.6" fill="#fff" stroke="#000" stroke-width="2.2" stroke-linejoin="miter"/>
<polygon points="1300.1,1565.9 1300.1,1583.7 1291.1,1583.7" fill="#000"/>
<polygon points="1317.8,1575.72 1324.93,1590 1310.67,1590" fill="#fff" stroke="#000" stroke-width="2.2" stroke-linejoin="miter"/>
<polygon points="1317.8,1573.3 1317.8,1591.1 1308.8,1591.1" fill="#000"/>
<polygon points="1337.7,1575.72 1344.83,1590 1330.57,1590" fill="#fff" stroke="#000" stroke-width="2.2" stroke-linejoin="miter"/>
<polygon points="1337.7,1573.3 1337.7,1591.1 1328.7,1591.1" fill="#000"/>
<polygon points="1355.9,1587.92 1363.03,1602.2 1348.77,1602.2" fill="#fff" stroke="#000" stroke-width="2.2" stroke-linejoin="miter"/>
<polygon points="1355.9,1585.5 1355.9,1603.3 1346.9,1603.3" fill="#000"/>
<text x="1007.3" y="1453.8" font-family='"Liberation Sans", Arial, sans-serif' font-size="38.8" font-weight="bold" font-style="normal" text-anchor="middle" transform="rotate(-90 1007.3 1453.8)">ACC/β-Actin</text>
<text x="1094" y="1689.68" font-family='"DejaVu Sans", "Liberation Sans", sans-serif' font-size="31.95" font-weight="normal" font-style="normal" text-anchor="middle">+</text>
<text x="1173" y="1689.68" font-family='"DejaVu Sans", "Liberation Sans", sans-serif' font-size="31.95" font-weight="normal" font-style="normal" text-anchor="middle">−</text>
<text x="1251.7" y="1689.68" font-family='"DejaVu Sans", "Liberation Sans", sans-serif' font-size="31.95" font-weight="normal" font-style="normal" text-anchor="middle">+</text>
<text x="1327.9" y="1689.68" font-family='"DejaVu Sans", "Liberation Sans", sans-serif' font-size="31.95" font-weight="normal" font-style="normal" text-anchor="middle">−</text>
<text x="1098" y="1733.78" font-family='"DejaVu Sans", "Liberation Sans", sans-serif' font-size="31.95" font-weight="normal" font-style="normal" text-anchor="middle">−</text>
<text x="1176.3" y="1733.78" font-family='"DejaVu Sans", "Liberation Sans", sans-serif' font-size="31.95" font-weight="normal" font-style="normal" text-anchor="middle">+</text>
<text x="1255.8" y="1733.78" font-family='"DejaVu Sans", "Liberation Sans", sans-serif' font-size="31.95" font-weight="normal" font-style="normal" text-anchor="middle">−</text>
<text x="1325.2" y="1733.78" font-family='"DejaVu Sans", "Liberation Sans", sans-serif' font-size="31.95" font-weight="normal" font-style="normal" text-anchor="middle">+</text>
<line x1="1073" y1="1738.8" x2="1224" y2="1738.8" stroke="#000" stroke-width="1.8" stroke-linecap="butt"/>
<line x1="1241" y1="1737.4" x2="1392.7" y2="1737.4" stroke="#000" stroke-width="1.8" stroke-linecap="butt"/>
<text x="1147.7" y="1773" font-family='"Liberation Sans", Arial, sans-serif' font-size="37" font-weight="bold" font-style="normal" text-anchor="middle">wt</text>
<text x="1230.2" y="1773" font-family='"Liberation Sans", Arial, sans-serif' font-size="38" font-weight="bold" text-anchor="start">C3GKO<tspan font-size="25" dy="-10.5" dx="1.5">Alb</tspan></text>
<polyline points="1098.2,1528.4 1098.2,1264.5 1251.7,1264.5" fill="none" stroke="#000" stroke-width="1.5" stroke-linecap="butt" stroke-linejoin="miter"/>
<text x="1177.7" y="1271.86" font-family='"Liberation Serif", "Times New Roman", serif' font-size="38" font-weight="bold" font-style="normal" text-anchor="middle">*</text>
<rect x="1497" y="1523.45" width="75.4" height="129.55" fill="#636363" stroke="#000" stroke-width="3.9"/>
<rect x="1577.3" y="1439.95" width="75.4" height="213.05" fill="#636363" stroke="#000" stroke-width="3.9"/>
<rect x="1657.5" y="1492.15" width="75.4" height="160.85" fill="#f0f0f0" stroke="#000" stroke-width="3.9"/>
<rect x="1737.3" y="1458.15" width="75.4" height="194.85" fill="#f0f0f0" stroke="#000" stroke-width="3.9"/>
<line x1="1495.2" y1="1287.85" x2="1495.2" y2="1654.95" stroke="#000" stroke-width="3.9" stroke-linecap="butt"/>
<line x1="1484.4" y1="1653" x2="1818.5" y2="1653" stroke="#000" stroke-width="3.9" stroke-linecap="butt"/>
<line x1="1484.4" y1="1289.8" x2="1495.2" y2="1289.8" stroke="#000" stroke-width="3.9" stroke-linecap="butt"/>
<text x="1479" y="1300.17" font-family='"Liberation Sans", Arial, sans-serif' font-size="27.3" font-weight="bold" font-style="normal" text-anchor="end">3</text>
<line x1="1484.4" y1="1410.9" x2="1495.2" y2="1410.9" stroke="#000" stroke-width="3.9" stroke-linecap="butt"/>
<text x="1479" y="1421.27" font-family='"Liberation Sans", Arial, sans-serif' font-size="27.3" font-weight="bold" font-style="normal" text-anchor="end">2</text>
<line x1="1484.4" y1="1532" x2="1495.2" y2="1532" stroke="#000" stroke-width="3.9" stroke-linecap="butt"/>
<text x="1479" y="1542.37" font-family='"Liberation Sans", Arial, sans-serif' font-size="27.3" font-weight="bold" font-style="normal" text-anchor="end">1</text>
<line x1="1484.4" y1="1653" x2="1495.2" y2="1653" stroke="#000" stroke-width="3.9" stroke-linecap="butt"/>
<text x="1479" y="1663.37" font-family='"Liberation Sans", Arial, sans-serif' font-size="27.3" font-weight="bold" font-style="normal" text-anchor="end">0</text>
<line x1="1534.7" y1="1653" x2="1534.7" y2="1664.5" stroke="#000" stroke-width="3.9" stroke-linecap="butt"/>
<line x1="1615" y1="1653" x2="1615" y2="1664.5" stroke="#000" stroke-width="3.9" stroke-linecap="butt"/>
<line x1="1695.2" y1="1653" x2="1695.2" y2="1664.5" stroke="#000" stroke-width="3.9" stroke-linecap="butt"/>
<line x1="1775" y1="1653" x2="1775" y2="1664.5" stroke="#000" stroke-width="3.9" stroke-linecap="butt"/>
<line x1="1534.7" y1="1508.6" x2="1534.7" y2="1534.4" stroke="#000" stroke-width="1.8" stroke-linecap="butt"/>
<line x1="1515.7" y1="1508.6" x2="1553.7" y2="1508.6" stroke="#000" stroke-width="1.8" stroke-linecap="butt"/>
<line x1="1515.7" y1="1534.4" x2="1553.7" y2="1534.4" stroke="#000" stroke-width="1.8" stroke-linecap="butt"/>
<line x1="1615" y1="1420.4" x2="1615" y2="1455.8" stroke="#000" stroke-width="1.8" stroke-linecap="butt"/>
<line x1="1596" y1="1420.4" x2="1634" y2="1420.4" stroke="#000" stroke-width="1.8" stroke-linecap="butt"/>
<line x1="1596" y1="1455.8" x2="1634" y2="1455.8" stroke="#000" stroke-width="1.8" stroke-linecap="butt"/>
<line x1="1695.2" y1="1474" x2="1695.2" y2="1506.7" stroke="#000" stroke-width="1.8" stroke-linecap="butt"/>
<line x1="1676.2" y1="1474" x2="1714.2" y2="1474" stroke="#000" stroke-width="1.8" stroke-linecap="butt"/>
<line x1="1676.2" y1="1506.7" x2="1714.2" y2="1506.7" stroke="#000" stroke-width="1.8" stroke-linecap="butt"/>
<line x1="1775" y1="1428.3" x2="1775" y2="1484.4" stroke="#000" stroke-width="1.8" stroke-linecap="butt"/>
<line x1="1756" y1="1428.3" x2="1794" y2="1428.3" stroke="#000" stroke-width="1.8" stroke-linecap="butt"/>
<line x1="1756" y1="1484.4" x2="1794" y2="1484.4" stroke="#000" stroke-width="1.8" stroke-linecap="butt"/>
<circle cx="1525.2" cy="1471.3" r="7.8" fill="#000"/>
<circle cx="1545.6" cy="1483.5" r="7.8" fill="#000"/>
<circle cx="1535.2" cy="1508" r="7.8" fill="#000"/>
<circle cx="1504.8" cy="1519.7" r="7.8" fill="#000"/>
<circle cx="1525.2" cy="1532.5" r="7.8" fill="#000"/>
<circle cx="1545.6" cy="1532.5" r="7.8" fill="#000"/>
<circle cx="1565.2" cy="1532.5" r="7.8" fill="#000"/>
<circle cx="1535.2" cy="1592.9" r="7.8" fill="#000"/>
<circle cx="1615" cy="1350.2" r="6.9" fill="#fff" stroke="#000" stroke-width="2.2"/>
<path d="M1615,1343.3 A6.9,6.9 0 0 0 1615,1357.1 Z" fill="#000"/>
<circle cx="1595.1" cy="1398.4" r="6.9" fill="#fff" stroke="#000" stroke-width="2.2"/>
<path d="M1595.1,1391.5 A6.9,6.9 0 0 0 1595.1,1405.3 Z" fill="#000"/>
<circle cx="1635.4" cy="1398.4" r="6.9" fill="#fff" stroke="#000" stroke-width="2.2"/>
<path d="M1635.4,1391.5 A6.9,6.9 0 0 0 1635.4,1405.3 Z" fill="#000"/>
<circle cx="1615" cy="1447.3" r="6.9" fill="#fff" stroke="#000" stroke-width="2.2"/>
<path d="M1615,1440.4 A6.9,6.9 0 0 0 1615,1454.2 Z" fill="#000"/>
<circle cx="1595.1" cy="1459" r="6.9" fill="#fff" stroke="#000" stroke-width="2.2"/>
<path d="M1595.1,1452.1 A6.9,6.9 0 0 0 1595.1,1465.9 Z" fill="#000"/>
<circle cx="1635.4" cy="1471.3" r="6.9" fill="#fff" stroke="#000" stroke-width="2.2"/>
<path d="M1635.4,1464.4 A6.9,6.9 0 0 0 1635.4,1478.2 Z" fill="#000"/>
<circle cx="1595.1" cy="1483.5" r="6.9" fill="#fff" stroke="#000" stroke-width="2.2"/>
<path d="M1595.1,1476.6 A6.9,6.9 0 0 0 1595.1,1490.4 Z" fill="#000"/>
<circle cx="1635.4" cy="1495.8" r="6.9" fill="#fff" stroke="#000" stroke-width="2.2"/>
<path d="M1635.4,1488.9 A6.9,6.9 0 0 0 1635.4,1502.7 Z" fill="#000"/>
<polygon points="1695.2,1390.6 1703.4,1406.6 1687,1406.6" fill="#000"/>
<polygon points="1705.3,1475.5 1713.5,1491.5 1697.1,1491.5" fill="#000"/>
<polygon points="1685.2,1487.7 1693.4,1503.7 1677,1503.7" fill="#000"/>
<polygon points="1664.8,1500 1673,1516 1656.6,1516" fill="#000"/>
<polygon points="1685.2,1500 1693.4,1516 1677,1516" fill="#000"/>
<polygon points="1705.3,1511.7 1713.5,1527.7 1697.1,1527.7" fill="#000"/>
<polygon points="1725.2,1511.7 1733.4,1527.7 1717,1527.7" fill="#000"/>
<polygon points="1775.5,1319.92 1782.63,1334.2 1768.37,1334.2" fill="#fff" stroke="#000" stroke-width="2.2" stroke-linejoin="miter"/>
<polygon points="1775.5,1317.5 1775.5,1335.3 1766.5,1335.3" fill="#000"/>
<polygon points="1775.5,1368.02 1782.63,1382.3 1768.37,1382.3" fill="#fff" stroke="#000" stroke-width="2.2" stroke-linejoin="miter"/>
<polygon points="1775.5,1365.6 1775.5,1383.4 1766.5,1383.4" fill="#000"/>
<polygon points="1775.5,1415.92 1782.63,1430.2 1768.37,1430.2" fill="#fff" stroke="#000" stroke-width="2.2" stroke-linejoin="miter"/>
<polygon points="1775.5,1413.5 1775.5,1431.3 1766.5,1431.3" fill="#000"/>
<polygon points="1775.5,1441.02 1782.63,1455.3 1768.37,1455.3" fill="#fff" stroke="#000" stroke-width="2.2" stroke-linejoin="miter"/>
<polygon points="1775.5,1438.6 1775.5,1456.4 1766.5,1456.4" fill="#000"/>
<polygon points="1775.5,1477.72 1782.63,1492 1768.37,1492" fill="#fff" stroke="#000" stroke-width="2.2" stroke-linejoin="miter"/>
<polygon points="1775.5,1475.3 1775.5,1493.1 1766.5,1493.1" fill="#000"/>
<polygon points="1775.5,1501.62 1782.63,1515.9 1768.37,1515.9" fill="#fff" stroke="#000" stroke-width="2.2" stroke-linejoin="miter"/>
<polygon points="1775.5,1499.2 1775.5,1517 1766.5,1517" fill="#000"/>
<polygon points="1775.5,1525.92 1782.63,1540.2 1768.37,1540.2" fill="#fff" stroke="#000" stroke-width="2.2" stroke-linejoin="miter"/>
<polygon points="1775.5,1523.5 1775.5,1541.3 1766.5,1541.3" fill="#000"/>
<polygon points="1775.5,1550.42 1782.63,1564.7 1768.37,1564.7" fill="#fff" stroke="#000" stroke-width="2.2" stroke-linejoin="miter"/>
<polygon points="1775.5,1548 1775.5,1565.8 1766.5,1565.8" fill="#000"/>
<text x="1444.1" y="1442.9" font-family='"Liberation Sans", Arial, sans-serif' font-size="38.4" font-weight="bold" font-style="normal" text-anchor="middle" transform="rotate(-90 1444.1 1442.9)">CPT1A/β-Actin</text>
<text x="1532.5" y="1689.68" font-family='"DejaVu Sans", "Liberation Sans", sans-serif' font-size="31.95" font-weight="normal" font-style="normal" text-anchor="middle">+</text>
<text x="1611.7" y="1689.68" font-family='"DejaVu Sans", "Liberation Sans", sans-serif' font-size="31.95" font-weight="normal" font-style="normal" text-anchor="middle">−</text>
<text x="1690.3" y="1689.68" font-family='"DejaVu Sans", "Liberation Sans", sans-serif' font-size="31.95" font-weight="normal" font-style="normal" text-anchor="middle">+</text>
<text x="1766" y="1689.68" font-family='"DejaVu Sans", "Liberation Sans", sans-serif' font-size="31.95" font-weight="normal" font-style="normal" text-anchor="middle">−</text>
<text x="1536" y="1733.78" font-family='"DejaVu Sans", "Liberation Sans", sans-serif' font-size="31.95" font-weight="normal" font-style="normal" text-anchor="middle">−</text>
<text x="1615" y="1733.78" font-family='"DejaVu Sans", "Liberation Sans", sans-serif' font-size="31.95" font-weight="normal" font-style="normal" text-anchor="middle">+</text>
<text x="1693.9" y="1733.78" font-family='"DejaVu Sans", "Liberation Sans", sans-serif' font-size="31.95" font-weight="normal" font-style="normal" text-anchor="middle">−</text>
<text x="1763.3" y="1733.78" font-family='"DejaVu Sans", "Liberation Sans", sans-serif' font-size="31.95" font-weight="normal" font-style="normal" text-anchor="middle">+</text>
<line x1="1511" y1="1738.8" x2="1662.6" y2="1738.8" stroke="#000" stroke-width="1.8" stroke-linecap="butt"/>
<line x1="1679.5" y1="1737.4" x2="1831.3" y2="1737.4" stroke="#000" stroke-width="1.8" stroke-linecap="butt"/>
<text x="1586.7" y="1773" font-family='"Liberation Sans", Arial, sans-serif' font-size="37" font-weight="bold" font-style="normal" text-anchor="middle">wt</text>
<text x="1668.9" y="1773" font-family='"Liberation Sans", Arial, sans-serif' font-size="38" font-weight="bold" text-anchor="start">C3GKO<tspan font-size="25" dy="-10.5" dx="1.5">Alb</tspan></text>
<text x="389" y="1929" font-family='"Liberation Sans", Arial, sans-serif' font-size="42" font-weight="bold" font-style="normal" text-anchor="start">C</text>
<line x1="698.7" y1="1891.1" x2="698.7" y2="2291.3" stroke="#000" stroke-width="4" stroke-linecap="butt"/>
<line x1="681" y1="2289.3" x2="1204" y2="2289.3" stroke="#000" stroke-width="4" stroke-linecap="butt"/>
<line x1="681" y1="2289.3" x2="698.7" y2="2289.3" stroke="#000" stroke-width="4" stroke-linecap="butt"/>
<text x="674" y="2299.6" font-family='"Liberation Sans", Arial, sans-serif' font-size="30.3" font-weight="bold" font-style="normal" text-anchor="end">0</text>
<line x1="681" y1="2190.25" x2="698.7" y2="2190.25" stroke="#000" stroke-width="4" stroke-linecap="butt"/>
<text x="674" y="2200.55" font-family='"Liberation Sans", Arial, sans-serif' font-size="30.3" font-weight="bold" font-style="normal" text-anchor="end">1000</text>
<line x1="681" y1="2091.2" x2="698.7" y2="2091.2" stroke="#000" stroke-width="4" stroke-linecap="butt"/>
<text x="674" y="2101.5" font-family='"Liberation Sans", Arial, sans-serif' font-size="30.3" font-weight="bold" font-style="normal" text-anchor="end">2000</text>
<line x1="681" y1="1992.15" x2="698.7" y2="1992.15" stroke="#000" stroke-width="4" stroke-linecap="butt"/>
<text x="674" y="2002.45" font-family='"Liberation Sans", Arial, sans-serif' font-size="30.3" font-weight="bold" font-style="normal" text-anchor="end">3000</text>
<line x1="681" y1="1893.1" x2="698.7" y2="1893.1" stroke="#000" stroke-width="4" stroke-linecap="butt"/>
<text x="674" y="1903.4" font-family='"Liberation Sans", Arial, sans-serif' font-size="30.3" font-weight="bold" font-style="normal" text-anchor="end">4000</text>
<line x1="751.2" y1="2289.3" x2="751.2" y2="2306.3" stroke="#000" stroke-width="4" stroke-linecap="butt"/>
<line x1="884.3" y1="2289.3" x2="884.3" y2="2306.3" stroke="#000" stroke-width="4" stroke-linecap="butt"/>
<line x1="1016.1" y1="2289.3" x2="1016.1" y2="2306.3" stroke="#000" stroke-width="4" stroke-linecap="butt"/>
<line x1="1148.8" y1="2289.3" x2="1148.8" y2="2306.3" stroke="#000" stroke-width="4" stroke-linecap="butt"/>
<text x="561.5" y="2339.5" font-family='"Liberation Sans", Arial, sans-serif' font-size="37.5" font-weight="bold" font-style="normal" text-anchor="start">Fasting</text>
<text x="753" y="2339.5" font-family='"Liberation Sans", Arial, sans-serif' font-size="36" font-weight="bold" font-style="normal" text-anchor="middle">0</text>
<text x="880.7" y="2339.5" font-family='"Liberation Sans", Arial, sans-serif' font-size="36" font-weight="bold" font-style="normal" text-anchor="middle">4</text>
<text x="1019.4" y="2339.5" font-family='"Liberation Sans", Arial, sans-serif' font-size="36" font-weight="bold" font-style="normal" text-anchor="middle">16</text>
<text x="1124" y="2339.5" font-family='"Liberation Sans", Arial, sans-serif' font-size="36.8" font-weight="bold" font-style="normal" text-anchor="start">48 h</text>
<text x="582" y="2081" font-family='"Liberation Sans", Arial, sans-serif' font-size="38" font-weight="bold" font-style="normal" text-anchor="middle" transform="rotate(-90 582 2081)"><tspan font-family='"Liberation Serif", "Times New Roman", serif' font-weight="normal" font-size="42">β</tspan>-hydroxybutyrate (μM)</text>
<polyline points="752,2180.5 884.6,2185.5 1016.1,1994.5 1148.8,2151" fill="none" stroke="#000" stroke-width="3.8" stroke-linecap="round" stroke-linejoin="miter" stroke-dasharray="8 11"/>
<polyline points="752,2210 884.3,2163.2 1016.1,1989.7 1148.8,2227.8" fill="none" stroke="#000" stroke-width="4" stroke-linecap="butt" stroke-linejoin="miter"/>
<line x1="752" y1="2170.3" x2="752" y2="2189" stroke="#000" stroke-width="2" stroke-linecap="butt"/>
<line x1="743.5" y1="2170.3" x2="760.5" y2="2170.3" stroke="#000" stroke-width="2" stroke-linecap="butt"/>
<line x1="743.5" y1="2189" x2="760.5" y2="2189" stroke="#000" stroke-width="2" stroke-linecap="butt"/>
<line x1="884.6" y1="2173" x2="884.6" y2="2198" stroke="#000" stroke-width="2" stroke-linecap="butt"/>
<line x1="876.1" y1="2173" x2="893.1" y2="2173" stroke="#000" stroke-width="2" stroke-linecap="butt"/>
<line x1="876.1" y1="2198" x2="893.1" y2="2198" stroke="#000" stroke-width="2" stroke-linecap="butt"/>
<line x1="1016.1" y1="1952.6" x2="1016.1" y2="2035.1" stroke="#000" stroke-width="2" stroke-linecap="butt"/>
<line x1="1007.6" y1="1952.6" x2="1024.6" y2="1952.6" stroke="#000" stroke-width="2" stroke-linecap="butt"/>
<line x1="1007.6" y1="2035.1" x2="1024.6" y2="2035.1" stroke="#000" stroke-width="2" stroke-linecap="butt"/>
<line x1="1148.8" y1="2116.4" x2="1148.8" y2="2182.5" stroke="#000" stroke-width="2" stroke-linecap="butt"/>
<line x1="1140.3" y1="2116.4" x2="1157.3" y2="2116.4" stroke="#000" stroke-width="2" stroke-linecap="butt"/>
<line x1="1140.3" y1="2182.5" x2="1157.3" y2="2182.5" stroke="#000" stroke-width="2" stroke-linecap="butt"/>
<line x1="752" y1="2201.5" x2="752" y2="2218.5" stroke="#000" stroke-width="2" stroke-linecap="butt"/>
<line x1="743.5" y1="2201.5" x2="760.5" y2="2201.5" stroke="#000" stroke-width="2" stroke-linecap="butt"/>
<line x1="743.5" y1="2218.5" x2="760.5" y2="2218.5" stroke="#000" stroke-width="2" stroke-linecap="butt"/>
<line x1="884.3" y1="2158" x2="884.3" y2="2168.5" stroke="#000" stroke-width="2" stroke-linecap="butt"/>
<line x1="875.8" y1="2158" x2="892.8" y2="2158" stroke="#000" stroke-width="2" stroke-linecap="butt"/>
<line x1="875.8" y1="2168.5" x2="892.8" y2="2168.5" stroke="#000" stroke-width="2" stroke-linecap="butt"/>
<line x1="1016.1" y1="1959.1" x2="1016.1" y2="2021.5" stroke="#000" stroke-width="2" stroke-linecap="butt"/>
<line x1="1007.6" y1="1959.1" x2="1024.6" y2="1959.1" stroke="#000" stroke-width="2" stroke-linecap="butt"/>
<line x1="1007.6" y1="2021.5" x2="1024.6" y2="2021.5" stroke="#000" stroke-width="2" stroke-linecap="butt"/>
<line x1="1148.8" y1="2216.2" x2="1148.8" y2="2239.2" stroke="#000" stroke-width="2" stroke-linecap="butt"/>
<line x1="1140.3" y1="2216.2" x2="1157.3" y2="2216.2" stroke="#000" stroke-width="2" stroke-linecap="butt"/>
<line x1="1140.3" y1="2239.2" x2="1157.3" y2="2239.2" stroke="#000" stroke-width="2" stroke-linecap="butt"/>
<polygon points="752,2173.7 759.8,2187.5 744.2,2187.5" fill="#fff" stroke="#000" stroke-width="2" stroke-linejoin="miter"/>
<polygon points="752,2171.5 752,2188.5 742.5,2188.5" fill="#000"/>
<polygon points="884.6,2178.7 892.4,2192.5 876.8,2192.5" fill="#fff" stroke="#000" stroke-width="2" stroke-linejoin="miter"/>
<polygon points="884.6,2176.5 884.6,2193.5 875.1,2193.5" fill="#000"/>
<polygon points="1016.1,1987.7 1023.9,2001.5 1008.3,2001.5" fill="#fff" stroke="#000" stroke-width="2" stroke-linejoin="miter"/>
<polygon points="1016.1,1985.5 1016.1,2002.5 1006.6,2002.5" fill="#000"/>
<polygon points="1148.8,2144.2 1156.6,2158 1141,2158" fill="#fff" stroke="#000" stroke-width="2" stroke-linejoin="miter"/>
<polygon points="1148.8,2142 1148.8,2159 1139.3,2159" fill="#000"/>
<circle cx="752" cy="2210" r="7.6" fill="#fff" stroke="#000" stroke-width="2.3"/>
<path d="M752,2202.4 A7.6,7.6 0 0 0 752,2217.6 Z" fill="#000"/>
<circle cx="884.3" cy="2163.2" r="7.6" fill="#fff" stroke="#000" stroke-width="2.3"/>
<path d="M884.3,2155.6 A7.6,7.6 0 0 0 884.3,2170.8 Z" fill="#000"/>
<circle cx="1016.1" cy="1989.7" r="7.6" fill="#fff" stroke="#000" stroke-width="2.3"/>
<path d="M1016.1,1982.1 A7.6,7.6 0 0 0 1016.1,1997.3 Z" fill="#000"/>
<circle cx="1148.8" cy="2227.8" r="7.6" fill="#fff" stroke="#000" stroke-width="2.3"/>
<path d="M1148.8,2220.2 A7.6,7.6 0 0 0 1148.8,2235.4 Z" fill="#000"/>
<text x="751.2" y="2160.06" font-family='"Liberation Serif", "Times New Roman", serif' font-size="48" font-weight="bold" font-style="normal" text-anchor="middle">*</text>
<text x="1148.2" y="2107.06" font-family='"Liberation Serif", "Times New Roman", serif' font-size="48" font-weight="bold" font-style="normal" text-anchor="middle">*</text>
<line x1="1197" y1="1884" x2="1251.4" y2="1884" stroke="#000" stroke-width="6" stroke-linecap="butt"/>
<circle cx="1224.6" cy="1884" r="10.5" fill="#fff" stroke="#000" stroke-width="2.8"/>
<path d="M1224.6,1873.5 A10.5,10.5 0 0 0 1224.6,1894.5 Z" fill="#000"/>
<text x="1265" y="1895.6" font-family='"Liberation Sans", Arial, sans-serif' font-size="37" font-weight="bold" font-style="normal" text-anchor="start">wt</text>
<line x1="1197" y1="1958" x2="1209" y2="1958" stroke="#000" stroke-width="6" stroke-linecap="butt"/>
<line x1="1233.5" y1="1958" x2="1235.5" y2="1958" stroke="#000" stroke-width="5.5" stroke-linecap="round"/>
<line x1="1248.2" y1="1958" x2="1249.6" y2="1958" stroke="#000" stroke-width="5.5" stroke-linecap="round"/>
<polygon points="1224.6,1948.46 1234.64,1968.6 1214.56,1968.6" fill="#fff" stroke="#000" stroke-width="2.6" stroke-linejoin="miter"/>
<polygon points="1224.6,1945.6 1224.6,1969.9 1212.35,1969.9" fill="#000"/>
<text x="1264.5" y="1967.3" font-family='"Liberation Sans", Arial, sans-serif' font-size="38" font-weight="bold" text-anchor="start">C3GKO<tspan font-size="25" dy="-11" dx="1.5">Alb</tspan></text>
</svg>
</body></html>
